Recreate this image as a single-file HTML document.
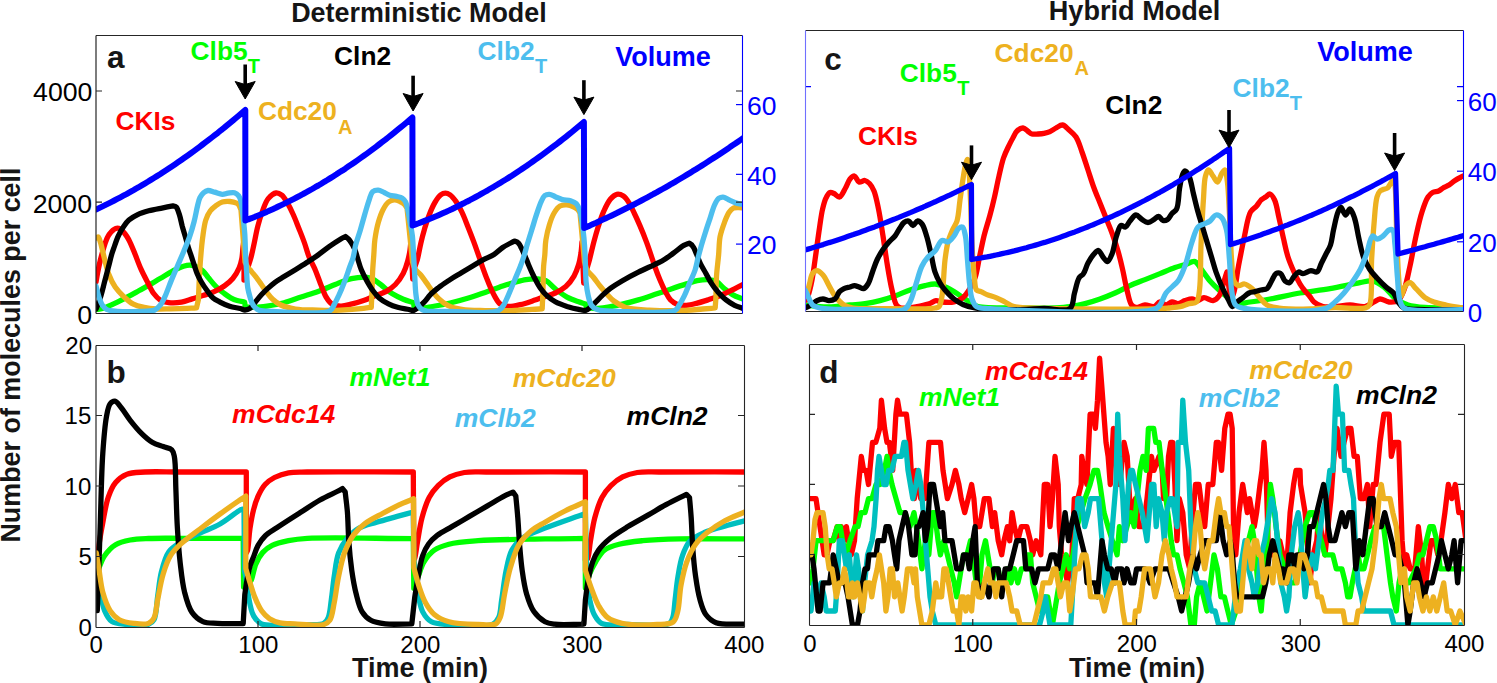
<!DOCTYPE html>
<html><head><meta charset="utf-8"><style>
html,body{margin:0;padding:0;background:#fff;}
svg{display:block;font-family:"Liberation Sans",sans-serif;}
</style></head><body>
<svg width="1497" height="683" viewBox="0 0 1497 683">
<rect width="1497" height="683" fill="#fff"/>
<defs><clipPath id="ca"><rect x="96" y="35" width="646" height="278"/></clipPath><clipPath id="cb"><rect x="96" y="345" width="648" height="282"/></clipPath><clipPath id="cc"><rect x="805" y="30" width="658" height="281"/></clipPath><clipPath id="cd"><rect x="809" y="344" width="655" height="281"/></clipPath></defs>
<path d="M96.0,309.5 C98.1,309.2 100.5,309.0 102.4,308.5 C104.0,308.1 105.0,307.6 106.7,306.9 C109.5,305.8 113.9,303.8 117.4,302.1 C121.0,300.4 124.6,298.6 128.1,296.7 C131.7,294.8 135.2,292.8 138.8,290.8 C142.3,288.8 145.9,286.9 149.4,284.9 C153.0,282.8 156.5,280.6 160.1,278.5 C163.7,276.4 167.4,274.0 170.8,272.1 C173.8,270.5 176.6,269.0 179.4,267.8 C181.9,266.7 184.6,265.7 186.9,265.3 C188.8,265.0 190.5,265.0 192.2,265.3 C194.0,265.6 195.8,266.4 197.5,267.3 C199.4,268.3 201.2,269.4 202.9,271.0 C204.8,272.8 206.4,275.3 208.2,277.5 C210.0,279.6 211.8,281.9 213.6,283.9 C215.3,285.8 217.1,287.6 218.9,289.2 C220.6,290.8 222.4,292.1 224.3,293.5 C226.3,295.0 228.5,296.6 230.7,297.8 C232.8,298.9 234.8,299.8 237.1,300.5 C239.5,301.2 242.1,301.6 244.6,302.1 L245.3,307.0 C248.8,307.1 252.2,307.4 255.7,307.3 C259.4,307.2 262.9,306.7 267.0,306.1 C272.1,305.3 278.5,304.2 284.1,302.7 C289.8,301.2 295.4,298.9 301.1,297.0 C306.8,295.1 312.5,293.5 318.1,291.4 C323.8,289.3 330.1,286.5 335.2,284.5 C339.4,282.8 342.7,281.1 346.5,280.0 C350.2,278.9 354.4,278.2 357.9,277.7 C360.8,277.3 363.3,277.0 365.8,277.2 C368.2,277.4 370.3,277.9 372.6,278.9 C375.3,280.1 377.7,282.4 380.6,284.5 C384.1,287.1 388.1,291.1 392.0,293.6 C395.7,295.9 399.6,297.7 403.3,299.3 C406.7,300.7 410.1,301.6 413.5,302.7 L414.1,306.7 C416.7,307.2 419.2,308.2 422.0,308.2 C425.2,308.2 428.6,307.2 432.5,306.5 C437.6,305.6 444.3,304.4 450.1,303.0 C456.0,301.6 461.8,300.1 467.6,298.3 C473.5,296.5 479.3,294.4 485.1,292.4 C491.0,290.3 497.4,287.8 502.7,286.0 C507.0,284.6 510.5,283.6 514.4,282.5 C518.3,281.4 522.2,280.2 526.1,279.6 C529.9,279.0 534.2,278.7 537.7,279.0 C540.7,279.2 543.2,279.4 545.9,280.7 C549.1,282.3 551.9,286.3 555.3,288.9 C558.9,291.7 563.0,294.9 567.0,297.1 C570.8,299.2 575.3,300.6 578.7,301.8 C581.3,302.8 583.4,303.3 585.7,304.1 L586.3,307.6 C589.4,307.9 592.5,308.5 595.7,308.5 C599.2,308.5 602.5,308.0 606.4,307.4 C611.2,306.7 617.1,305.4 622.4,304.2 C627.8,302.9 633.1,301.5 638.4,299.9 C643.8,298.3 649.1,296.4 654.5,294.6 C659.8,292.8 665.2,291.0 670.5,289.2 C675.8,287.4 681.7,285.4 686.5,283.9 C690.4,282.7 693.6,281.4 697.2,280.7 C700.7,280.0 704.5,279.4 707.9,279.6 C710.9,279.8 713.9,280.3 716.5,281.7 C719.3,283.1 721.3,286.1 723.9,288.2 C726.6,290.4 729.3,292.8 732.5,294.6 C736.0,296.6 740.2,297.9 744.0,299.5" fill="none" stroke="#00ff00" stroke-width="5.3" stroke-linejoin="round" stroke-linecap="round" clip-path="url(#ca)"/>
<path d="M96.0,282.0 C96.7,278.0 97.4,273.8 98.2,270.0 C98.9,266.5 99.5,263.7 100.4,260.0 C101.6,255.3 103.2,248.9 104.8,244.3 C106.1,240.6 107.2,237.1 109.2,234.4 C111.0,231.9 113.7,229.1 115.8,228.4 C117.3,227.9 118.8,228.2 120.2,228.9 C121.8,229.7 123.2,231.6 124.6,233.3 C126.1,235.2 127.5,237.4 128.9,239.9 C130.6,243.1 132.1,246.8 133.8,251.0 C136.0,256.2 138.5,263.5 140.9,268.9 C143.0,273.6 145.1,277.5 147.3,281.7 C149.4,285.7 151.3,290.3 153.7,293.5 C155.7,296.1 157.6,298.4 160.1,299.9 C162.6,301.4 165.5,302.2 168.7,302.6 C172.5,303.1 177.5,302.8 181.5,302.1 C185.3,301.5 188.6,300.0 192.2,298.9 C195.8,297.8 199.3,296.8 202.9,295.6 C206.5,294.4 210.1,293.5 213.6,291.9 C217.2,290.3 221.1,288.3 224.3,286.0 C227.4,283.8 230.4,281.4 232.8,278.5 C235.4,275.4 237.7,271.4 239.2,267.8 C240.6,264.6 241.2,261.7 241.9,258.2 C242.6,254.3 242.7,249.1 243.2,245.4 C243.6,242.5 243.9,240.3 244.3,237.7 L244.0,280.0 C245.0,276.7 245.9,273.5 247.0,270.0 C248.2,265.9 249.9,261.5 251.1,257.0 C252.4,252.2 253.4,246.9 254.5,241.8 C255.6,236.6 256.5,231.1 257.9,225.9 C259.2,220.8 260.7,215.8 262.5,211.1 C264.2,206.7 265.6,201.7 268.2,198.6 C270.4,196.0 273.6,193.3 276.1,193.0 C278.1,192.8 280.1,193.9 281.8,195.2 C284.0,196.9 285.7,200.2 287.5,203.2 C289.5,206.6 291.4,210.5 293.2,214.5 C295.2,218.8 296.9,223.5 298.8,228.2 C300.7,233.0 302.8,238.1 304.5,243.0 C306.2,247.7 307.3,252.6 309.1,257.0 C310.8,261.1 312.9,264.5 314.7,268.6 C316.7,273.2 318.5,278.6 320.4,283.4 C322.3,288.0 323.9,293.4 326.1,297.0 C327.8,299.8 329.4,302.4 331.8,303.9 C334.3,305.4 337.6,306.0 340.8,306.1 C344.4,306.2 348.4,304.8 352.2,303.9 C356.0,303.0 359.8,301.8 363.6,300.5 C367.4,299.2 371.1,297.4 374.9,295.9 C378.7,294.4 382.8,293.3 386.3,291.4 C389.6,289.5 392.7,287.3 395.4,284.5 C398.4,281.4 401.2,277.2 403.3,273.2 C405.3,269.3 406.7,264.7 407.8,260.7 C408.8,257.0 409.5,253.5 410.0,250.0 C410.5,246.6 410.7,243.3 411.0,240.0 L412.7,279.0 C413.3,275.3 413.7,271.4 414.5,268.0 C415.2,265.0 416.4,263.0 417.3,259.8 C418.5,255.3 419.6,248.6 420.8,243.4 C421.9,238.5 423.0,234.0 424.4,229.4 C425.8,224.7 427.2,219.9 429.0,215.4 C430.7,211.0 432.7,206.1 434.9,202.5 C436.7,199.5 438.6,196.4 440.7,194.9 C442.2,193.8 443.8,193.2 445.4,193.2 C447.0,193.2 448.6,193.9 450.1,194.9 C452.1,196.3 454.1,198.9 455.9,201.4 C458.0,204.4 459.9,208.1 461.8,211.9 C463.9,216.2 465.7,221.1 467.6,225.9 C469.6,230.9 471.6,235.9 473.5,241.1 C475.5,246.4 477.6,252.6 479.3,257.4 C480.6,261.3 481.4,264.1 482.8,267.9 C484.4,272.5 486.6,278.3 488.6,283.1 C490.5,287.6 492.4,292.2 494.5,295.9 C496.3,299.0 497.8,302.3 500.3,304.1 C502.6,305.7 505.5,306.3 508.5,306.5 C512.0,306.7 516.3,305.6 520.2,304.7 C524.1,303.8 528.0,302.5 531.9,301.2 C535.8,299.9 539.7,298.5 543.6,297.1 C547.5,295.7 551.6,294.8 555.3,293.0 C559.0,291.3 562.7,289.3 565.8,286.6 C569.0,283.8 571.8,279.9 574.0,276.1 C576.1,272.4 577.5,268.3 578.7,264.4 C579.8,260.6 580.4,256.8 581.0,253.0 C581.5,249.3 581.7,245.7 582.0,242.0 L583.7,283.0 C584.5,279.3 585.1,275.7 586.0,272.0 C587.0,268.1 588.2,264.4 589.4,260.0 C590.8,254.6 592.3,247.8 593.8,242.1 C595.2,236.8 596.6,231.8 598.2,226.7 C599.9,221.6 601.6,216.1 603.7,211.4 C605.7,207.0 607.8,202.3 610.3,199.3 C612.3,197.0 614.5,194.8 616.8,194.3 C618.9,193.9 621.5,194.8 623.4,196.0 C625.6,197.4 627.2,200.0 628.9,202.6 C630.9,205.7 632.6,209.8 634.4,213.5 C636.3,217.4 638.0,221.2 639.9,225.6 C642.1,230.7 644.6,236.9 646.5,242.1 C648.2,246.6 649.6,250.8 651.0,255.0 C652.4,259.1 653.6,263.0 655.0,267.0 C656.5,271.2 658.1,275.5 659.8,279.6 C661.5,283.6 663.3,287.8 665.2,291.4 C666.9,294.5 668.4,297.7 670.5,299.9 C672.4,301.8 674.4,303.3 676.9,304.2 C679.7,305.2 683.2,305.4 686.5,305.3 C690.0,305.1 693.7,304.0 697.2,303.1 C700.8,302.2 704.3,301.0 707.9,299.9 C711.5,298.7 715.1,297.6 718.6,296.2 C722.2,294.8 725.5,293.2 729.3,291.4 C733.8,289.2 739.1,286.5 744.0,284.0" fill="none" stroke="#ff0000" stroke-width="5.3" stroke-linejoin="round" stroke-linecap="round" clip-path="url(#ca)"/>
<path d="M96.0,238.0 C96.7,237.7 97.6,236.8 98.2,237.0 C99.2,237.4 99.7,240.1 100.4,242.1 C101.3,244.6 101.9,247.9 102.6,251.0 C103.4,254.2 104.1,257.4 105.0,261.0 C106.1,265.1 107.1,270.0 108.8,274.3 C110.5,278.7 112.6,283.3 115.2,287.1 C117.7,290.7 120.7,293.8 123.8,296.7 C126.8,299.5 129.9,302.4 133.4,304.2 C136.7,305.9 140.4,306.6 144.1,307.4 C147.9,308.2 151.7,308.7 155.9,309.0 C160.6,309.3 165.7,308.9 170.8,308.8 C176.1,308.7 182.2,308.5 186.9,308.3 C190.5,308.1 193.3,308.0 196.5,307.8 L198.4,299.6 C198.7,293.2 198.9,287.1 199.2,280.5 C199.6,273.4 200.0,265.9 200.6,258.6 C201.2,251.3 201.8,243.4 202.8,236.6 C203.6,230.7 204.3,224.6 205.8,220.0 C207.0,216.4 208.4,213.4 210.2,211.0 C211.8,208.9 213.7,207.4 215.7,205.9 C217.7,204.4 219.9,202.7 222.3,202.0 C224.7,201.3 227.5,201.3 230.0,201.5 C232.3,201.7 235.0,202.4 236.6,203.1 C237.6,203.6 238.2,204.0 238.8,204.8 C239.7,206.0 240.3,208.3 241.0,210.0 L245.0,262.0 C245.9,263.7 246.7,265.6 247.6,267.0 C248.4,268.1 249.0,268.7 250.0,269.8 C251.5,271.6 253.8,274.2 255.7,276.6 C257.6,279.1 259.5,281.9 261.4,284.5 C263.3,287.2 265.1,290.0 267.0,292.5 C268.8,294.9 270.5,297.3 272.7,299.3 C275.0,301.4 277.5,303.5 280.7,305.0 C284.7,306.9 289.9,308.1 295.4,309.0 C302.1,310.1 310.5,309.9 318.1,310.1 C325.7,310.3 333.2,310.4 340.8,310.1 C348.4,309.8 358.0,309.0 363.6,308.4 C366.9,308.0 368.7,307.7 371.3,307.3 L372.1,289.1 C372.3,283.4 372.3,277.7 372.6,272.0 C372.9,266.3 373.4,260.5 373.8,255.0 C374.2,249.7 374.2,244.8 374.9,239.5 C375.7,233.9 376.8,227.7 378.3,222.5 C379.6,218.0 381.0,213.6 382.9,210.0 C384.5,206.9 386.3,203.7 388.5,202.0 C390.2,200.7 392.3,199.9 394.2,199.8 C396.1,199.7 398.2,200.7 399.9,201.5 C401.5,202.2 403.2,203.2 404.4,204.3 C405.5,205.4 406.1,206.8 407.0,208.0 L412.5,262.0 C413.3,264.3 413.7,266.9 415.0,269.0 C416.4,271.2 418.9,272.7 420.8,274.9 C422.9,277.3 424.7,280.4 426.7,283.1 C428.6,285.8 430.5,288.7 432.5,291.3 C434.4,293.8 436.1,296.1 438.4,298.3 C441.0,300.8 444.1,303.5 447.7,305.3 C451.8,307.3 456.5,308.5 461.8,309.4 C468.5,310.5 477.3,310.4 485.1,310.6 C492.9,310.8 500.7,310.8 508.5,310.6 C516.3,310.4 525.7,309.7 531.9,309.4 C536.0,309.2 538.8,309.0 542.2,308.8 L543.0,290.1 C543.2,282.3 543.2,273.2 543.6,266.7 C543.9,262.1 544.4,259.2 544.8,255.0 C545.2,250.3 545.1,244.9 545.9,239.9 C546.7,234.8 547.9,229.4 549.4,224.7 C550.7,220.5 552.1,216.3 554.1,213.0 C555.8,210.2 557.7,207.3 560.0,206.0 C562.1,204.8 564.7,204.7 567.0,204.9 C569.4,205.1 572.1,206.3 574.0,207.2 C575.4,207.9 576.5,208.5 577.5,209.5 C578.5,210.5 579.2,211.8 580.0,213.0 L584.5,262.0 C585.4,264.7 585.7,267.5 587.1,270.0 C588.6,272.7 591.5,274.9 593.6,277.5 C595.8,280.2 597.8,283.3 600.0,286.0 C602.1,288.6 604.1,291.0 606.4,293.5 C608.8,296.0 610.9,298.8 613.9,301.0 C617.2,303.5 620.9,305.9 625.6,307.4 C631.9,309.4 640.6,309.5 649.1,310.1 C659.0,310.7 671.6,310.9 681.2,310.6 C689.1,310.4 696.4,309.5 702.6,309.0 C707.4,308.6 711.0,308.3 715.2,307.9 L715.9,297.8 C716.1,290.7 716.1,283.5 716.5,276.4 C716.9,269.3 718.0,261.9 718.6,255.0 C719.2,248.6 719.0,242.3 720.1,236.6 C721.1,231.5 722.9,226.6 724.5,222.3 C725.9,218.7 727.2,215.0 728.9,212.5 C730.2,210.6 731.6,208.9 733.3,208.1 C734.9,207.3 736.9,207.5 738.7,207.5 C740.5,207.5 742.2,208.0 744.0,208.3" fill="none" stroke="#edb120" stroke-width="5.3" stroke-linejoin="round" stroke-linecap="round" clip-path="url(#ca)"/>
<path d="M96.0,309.0 C97.4,305.3 99.0,301.9 100.3,297.8 C101.9,293.0 103.2,287.1 104.6,281.7 C106.0,276.4 107.6,270.5 108.8,265.7 C109.8,261.8 110.6,258.1 111.5,255.0 C112.2,252.6 112.8,251.1 113.6,248.7 C114.8,245.3 116.3,240.4 118.0,236.6 C119.6,233.1 121.5,229.6 123.5,226.7 C125.2,224.2 126.7,222.0 128.9,220.1 C131.3,218.0 134.5,216.1 137.7,214.6 C141.1,213.0 144.8,211.9 148.7,210.8 C152.9,209.7 157.7,208.9 161.9,208.1 C165.7,207.3 169.2,206.6 172.9,205.9 L175.5,206.5 C175.8,206.8 176.2,206.8 176.5,207.3 C177.4,208.5 178.5,211.8 179.4,214.6 C180.5,218.0 181.3,222.6 182.3,226.4 C183.3,229.9 184.3,233.2 185.3,236.6 C186.3,240.0 187.2,243.6 188.2,246.9 C189.1,249.9 190.1,252.7 191.1,255.6 C192.1,258.5 193.0,261.5 194.0,264.4 C195.0,267.3 195.8,270.3 197.0,273.2 C198.2,276.2 199.7,279.1 201.4,282.0 C203.1,285.0 205.2,288.0 207.2,290.8 C209.1,293.4 210.9,296.2 213.1,298.1 C215.2,299.9 217.5,300.8 220.0,302.1 C222.9,303.6 226.3,305.2 229.6,306.3 C233.0,307.4 237.5,307.8 240.3,308.5 C242.2,309.0 243.4,310.0 245.0,310.0 C246.6,310.0 248.4,309.5 250.0,308.4 C252.1,307.0 253.8,303.9 255.7,301.6 C257.6,299.3 259.5,296.9 261.4,294.8 C263.2,292.8 264.9,291.0 267.0,289.1 C269.4,286.9 272.2,284.4 275.0,282.3 C277.9,280.2 280.9,278.6 284.1,276.6 C287.7,274.4 291.6,272.1 295.4,269.8 C299.2,267.4 303.0,265.0 306.8,262.5 C310.6,260.0 314.4,257.6 318.1,255.0 C321.9,252.3 325.7,249.1 329.5,246.4 C333.2,243.8 337.8,240.8 340.8,239.0 C342.7,237.9 343.9,237.3 345.5,236.5 L348.0,238.5 C348.6,239.2 349.2,239.7 349.9,240.7 C351.2,242.5 353.2,245.8 354.5,248.6 C355.8,251.5 356.4,254.7 357.5,258.0 C358.7,261.7 359.7,266.0 361.3,269.8 C362.9,273.7 365.0,277.6 367.0,281.1 C368.8,284.3 370.5,287.3 372.6,290.2 C374.7,293.0 376.9,295.9 379.5,298.2 C382.2,300.5 385.4,302.4 388.5,303.9 C391.5,305.4 394.4,306.4 397.6,307.3 C401.1,308.3 406.1,308.9 409.0,309.5 C410.8,309.9 412.1,310.8 413.5,310.5 C415.1,310.2 416.4,308.7 418.0,307.5 C420.0,306.0 422.4,303.9 424.4,301.8 C426.5,299.7 428.0,297.1 430.2,294.8 C432.6,292.3 435.4,290.1 438.4,287.7 C441.9,285.0 446.2,282.2 450.1,279.6 C454.0,277.1 457.9,274.9 461.8,272.5 C465.7,270.2 469.8,267.7 473.5,265.5 C476.8,263.5 479.7,261.6 483.0,259.8 C486.5,257.9 490.7,256.6 494.0,254.5 C497.2,252.5 499.5,249.7 502.7,247.5 C506.2,245.1 510.5,243.2 514.4,241.1 L517.2,242.0 C518.0,242.8 518.8,243.5 519.5,244.5 C520.2,245.5 520.7,246.7 521.4,248.1 C522.4,250.2 523.8,253.3 525.0,256.0 C526.2,258.7 527.1,261.3 528.4,264.4 C530.0,268.2 532.2,273.2 534.2,277.2 C536.1,280.9 537.9,284.5 540.1,287.7 C542.2,290.7 544.5,293.5 547.1,295.9 C549.6,298.2 552.2,300.1 555.3,301.8 C558.8,303.7 563.1,305.2 567.0,306.5 C570.9,307.7 575.3,308.8 578.7,309.4 C581.3,309.9 583.7,310.7 585.7,310.3 C587.5,309.9 588.8,308.6 590.3,307.4 C592.1,306.0 593.8,304.0 595.7,302.1 C597.8,300.1 599.8,297.8 602.1,295.6 C604.7,293.2 607.5,290.6 610.7,288.2 C614.2,285.6 618.1,283.2 622.4,280.7 C627.3,277.8 633.0,274.8 638.4,272.1 C643.7,269.4 650.2,266.7 654.5,264.6 C657.5,263.2 659.3,262.5 662.0,261.0 C665.4,259.1 669.3,256.1 672.9,253.5 C676.6,250.9 680.7,247.1 683.8,245.4 C685.9,244.2 687.5,243.9 689.3,243.2 L691.8,245.0 C692.4,245.9 693.0,246.5 693.7,247.6 C694.8,249.4 695.9,252.7 697.0,255.3 C698.1,258.0 699.0,260.8 700.4,263.6 C701.9,266.7 704.0,270.0 705.8,273.2 C707.6,276.4 709.1,279.8 711.1,282.8 C713.0,285.8 715.1,288.6 717.5,291.4 C720.1,294.3 723.1,297.5 726.1,299.9 C728.8,302.1 731.6,303.8 734.6,305.3 C737.6,306.8 740.9,307.6 744.0,308.8" fill="none" stroke="#000000" stroke-width="5.3" stroke-linejoin="round" stroke-linecap="round" clip-path="url(#ca)"/>
<path d="M96.0,286.0 C97.1,289.9 98.0,294.3 99.2,297.8 C100.2,300.6 101.0,303.3 102.4,305.3 C103.6,307.0 104.7,308.5 106.7,309.5 C109.3,310.8 113.2,310.9 117.4,311.3 C123.3,311.8 132.2,311.8 138.8,311.5 C144.5,311.3 151.1,311.6 154.8,310.0 C157.3,308.9 158.6,307.2 160.1,305.3 C161.8,303.2 163.1,300.6 164.4,297.8 C166.0,294.6 167.3,290.7 168.7,287.1 C170.1,283.5 171.5,279.9 173.0,276.4 C174.5,272.9 175.9,269.8 177.5,266.0 C179.4,261.5 181.8,256.1 183.8,251.2 C185.8,246.4 187.8,241.8 189.5,237.0 C191.2,232.1 192.7,227.1 194.0,222.0 C195.4,216.8 196.4,210.5 197.5,206.0 C198.3,202.7 198.8,199.8 200.0,197.5 C201.0,195.6 202.2,193.9 203.6,192.7 C204.9,191.6 206.3,190.7 208.0,190.5 C209.9,190.3 212.3,191.5 214.6,192.1 C217.1,192.8 219.9,194.2 222.3,194.3 C224.3,194.4 225.9,193.5 227.8,193.2 C229.9,192.9 232.5,192.1 234.4,192.7 C236.1,193.2 237.7,194.6 238.8,196.0 C239.9,197.5 240.4,199.1 241.0,201.5 C242.0,205.5 242.6,212.5 243.2,218.0 C243.8,223.5 244.4,228.6 244.8,234.4 C245.2,240.9 245.3,248.7 245.6,255.0 C245.9,260.4 246.2,264.8 246.5,270.0 C246.9,275.7 247.0,283.1 247.8,288.0 C248.4,291.5 249.2,294.3 250.0,297.0 C250.6,299.2 251.1,301.2 252.0,303.0 C252.8,304.7 253.8,306.3 255.0,307.5 C256.2,308.7 257.2,309.6 259.1,310.3 C262.2,311.4 266.6,311.3 272.7,311.5 C285.1,312.0 321.4,315.1 329.5,311.0 C332.4,309.5 332.6,307.3 334.0,305.0 C335.6,302.3 337.0,299.3 338.6,295.9 C340.5,291.9 342.5,287.0 344.3,282.3 C346.3,277.2 348.3,270.9 349.9,266.4 C351.1,263.2 352.1,261.1 353.0,258.0 C354.1,254.2 354.5,249.6 355.6,245.2 C356.8,240.4 358.7,235.5 360.2,230.5 C361.7,225.3 363.2,219.7 364.7,214.5 C366.2,209.5 367.7,203.9 369.2,199.8 C370.3,196.7 370.8,193.4 372.6,191.8 C374.1,190.5 376.4,190.0 378.3,190.1 C380.2,190.2 382.1,191.6 384.0,192.4 C385.9,193.3 387.7,194.5 389.7,195.2 C391.8,195.9 394.3,195.9 396.5,196.4 C398.5,196.9 400.7,197.1 402.2,198.1 C403.6,199.0 404.7,200.3 405.6,202.0 C406.7,204.1 407.1,207.0 407.8,210.0 C408.6,213.7 409.3,218.2 410.1,222.5 C410.9,226.9 411.8,231.3 412.4,236.1 C413.0,241.5 413.1,247.2 413.5,253.2 C413.9,260.0 414.3,267.9 414.7,275.0 C415.1,281.8 415.2,289.5 416.0,295.0 C416.5,298.9 416.8,302.4 418.1,305.0 C419.1,307.0 420.5,308.5 422.0,309.5 C423.4,310.4 424.5,310.6 426.7,311.0 C431.5,311.8 441.0,311.4 450.1,311.5 C463.0,311.6 488.9,314.1 496.8,311.3 C500.0,310.2 500.9,308.7 502.7,306.5 C505.0,303.6 506.6,298.9 508.5,294.8 C510.5,290.3 512.4,285.4 514.4,280.7 C516.3,276.0 518.5,271.1 520.2,266.7 C521.7,262.9 522.8,259.6 524.0,256.0 C525.2,252.3 526.0,248.7 527.2,244.6 C528.6,239.9 530.3,234.5 531.9,229.4 C533.5,224.3 535.0,219.0 536.6,214.2 C538.1,209.7 539.7,204.8 541.3,201.4 C542.4,199.0 543.3,196.7 544.8,195.5 C546.1,194.5 547.8,194.2 549.4,194.3 C551.3,194.4 553.3,195.9 555.3,196.7 C557.5,197.6 559.8,198.9 562.3,199.6 C564.9,200.3 568.1,200.0 570.5,200.8 C572.7,201.5 574.8,202.2 576.3,203.7 C578.0,205.4 578.9,207.9 579.8,210.7 C581.0,214.3 581.5,219.2 582.2,223.6 C582.9,228.2 583.4,232.7 583.9,237.6 C584.4,243.1 584.8,248.7 585.1,255.1 C585.5,263.0 585.4,274.3 586.1,281.7 C586.6,287.1 587.2,291.4 588.2,295.6 C589.1,299.2 589.6,302.9 591.4,305.3 C593.0,307.4 594.9,308.8 597.8,309.8 C602.4,311.4 608.9,311.0 617.1,311.3 C631.2,311.7 666.8,314.3 674.8,310.5 C677.5,309.2 677.7,307.4 679.1,305.3 C680.9,302.6 682.7,299.1 684.4,295.6 C686.3,291.7 687.9,287.1 689.7,282.8 C691.5,278.5 693.7,274.3 695.1,270.0 C696.4,266.0 697.0,262.0 698.0,258.0 C699.1,253.8 700.2,249.7 701.4,245.4 C702.7,240.8 704.3,235.8 705.8,231.1 C707.2,226.6 708.7,222.3 710.2,217.9 C711.7,213.5 712.9,208.3 714.6,204.8 C715.9,202.1 717.3,199.4 719.0,198.2 C720.3,197.3 721.8,196.9 723.4,197.1 C725.4,197.3 727.8,199.4 730.0,200.4 C732.2,201.4 734.2,202.4 736.5,203.1 C738.9,203.8 741.5,204.0 744.0,204.5" fill="none" stroke="#4dbeee" stroke-width="5.3" stroke-linejoin="round" stroke-linecap="round" clip-path="url(#ca)"/>
<path d="M96.0,209.5 L99.0,208.1 L102.1,206.6 L105.1,205.1 L108.2,203.6 L111.2,202.1 L114.3,200.5 L117.3,198.9 L120.4,197.3 L123.4,195.7 L126.5,194.1 L129.5,192.4 L132.6,190.7 L135.6,188.9 L138.7,187.2 L141.7,185.4 L144.8,183.6 L147.8,181.8 L150.8,179.9 L153.9,178.0 L156.9,176.1 L160.0,174.2 L163.0,172.2 L166.1,170.2 L169.1,168.2 L172.2,166.2 L175.2,164.2 L178.3,162.1 L181.3,160.0 L184.4,157.8 L187.4,155.7 L190.5,153.5 L193.5,151.3 L196.5,149.1 L199.6,146.8 L202.6,144.5 L205.7,142.2 L208.7,139.9 L211.8,137.5 L214.8,135.2 L217.9,132.8 L220.9,130.3 L224.0,127.9 L227.0,125.4 L230.1,122.9 L233.1,120.4 L236.2,117.8 L239.2,115.2 L242.3,112.6 L245.3,110.0 L245.4,220.5 L248.4,219.3 L251.5,218.2 L254.5,217.0 L257.5,215.7 L260.6,214.5 L263.6,213.2 L266.7,211.9 L269.7,210.5 L272.7,209.2 L275.8,207.8 L278.8,206.3 L281.8,204.9 L284.9,203.4 L287.9,201.9 L290.9,200.4 L294.0,198.8 L297.0,197.3 L300.1,195.7 L303.1,194.0 L306.1,192.4 L309.2,190.7 L312.2,189.0 L315.2,187.2 L318.3,185.5 L321.3,183.7 L324.3,181.8 L327.4,180.0 L330.4,178.1 L333.5,176.2 L336.5,174.3 L339.5,172.3 L342.6,170.4 L345.6,168.4 L348.6,166.3 L351.7,164.3 L354.7,162.2 L357.7,160.1 L360.8,157.9 L363.8,155.8 L366.9,153.6 L369.9,151.4 L372.9,149.1 L376.0,146.8 L379.0,144.5 L382.0,142.2 L385.1,139.9 L388.1,137.5 L391.1,135.1 L394.2,132.6 L397.2,130.2 L400.3,127.7 L403.3,125.2 L406.3,122.7 L409.4,120.1 L412.4,117.5 L412.6,225.5 L415.6,224.4 L418.6,223.3 L421.6,222.1 L424.6,220.9 L427.6,219.7 L430.6,218.5 L433.6,217.2 L436.6,216.0 L439.6,214.7 L442.7,213.3 L445.7,212.0 L448.7,210.6 L451.7,209.2 L454.7,207.7 L457.7,206.3 L460.7,204.8 L463.7,203.3 L466.7,201.7 L469.7,200.2 L472.7,198.6 L475.7,197.0 L478.7,195.4 L481.7,193.7 L484.7,192.0 L487.7,190.3 L490.7,188.5 L493.7,186.8 L496.7,185.0 L499.8,183.2 L502.8,181.3 L505.8,179.5 L508.8,177.6 L511.8,175.7 L514.8,173.7 L517.8,171.7 L520.8,169.8 L523.8,167.7 L526.8,165.7 L529.8,163.6 L532.8,161.5 L535.8,159.4 L538.8,157.3 L541.8,155.1 L544.8,152.9 L547.8,150.7 L550.8,148.4 L553.8,146.1 L556.9,143.8 L559.9,141.5 L562.9,139.2 L565.9,136.8 L568.9,134.4 L571.9,132.0 L574.9,129.5 L577.9,127.0 L580.9,124.5 L583.9,122.0 L584.2,228.0 L587.2,226.7 L590.2,225.4 L593.2,224.0 L596.3,222.7 L599.3,221.3 L602.3,219.9 L605.3,218.5 L608.3,217.1 L611.3,215.7 L614.4,214.2 L617.4,212.8 L620.4,211.3 L623.4,209.8 L626.4,208.3 L629.4,206.8 L632.4,205.2 L635.5,203.7 L638.5,202.1 L641.5,200.5 L644.5,198.9 L647.5,197.3 L650.5,195.7 L653.5,194.0 L656.6,192.4 L659.6,190.7 L662.6,189.0 L665.6,187.3 L668.6,185.6 L671.6,183.8 L674.7,182.1 L677.7,180.3 L680.7,178.5 L683.7,176.7 L686.7,174.9 L689.7,173.1 L692.7,171.2 L695.8,169.4 L698.8,167.5 L701.8,165.6 L704.8,163.7 L707.8,161.8 L710.8,159.8 L713.8,157.9 L716.9,155.9 L719.9,153.9 L722.9,151.9 L725.9,149.9 L728.9,147.9 L731.9,145.8 L735.0,143.8 L738.0,141.7 L741.0,139.6 L744.0,137.5" fill="none" stroke="#0000ff" stroke-width="6" stroke-linejoin="round" stroke-linecap="round" clip-path="url(#ca)"/>
<path d="M97.0,566.0 C97.7,559.0 98.1,552.1 99.0,545.0 C100.0,537.7 101.3,530.4 102.8,522.7 C104.4,514.4 105.8,504.3 108.3,497.1 C110.3,491.4 112.3,486.4 115.6,482.5 C118.6,479.0 122.2,476.2 126.6,474.4 C131.7,472.3 137.8,472.5 144.9,472.0 C154.7,471.4 166.5,472.0 180.0,472.0 C198.6,472.0 224.2,472.0 246.3,472.0 L246.3,553.0 C246.7,552.0 247.2,551.5 247.6,550.0 C248.6,546.2 248.9,535.8 249.9,529.0 C250.9,522.6 251.9,516.0 253.4,510.3 C254.7,505.2 256.1,500.6 258.1,496.2 C260.0,492.0 262.2,487.7 265.1,484.5 C267.8,481.5 270.9,479.4 274.5,477.5 C278.6,475.4 283.4,473.7 288.5,472.8 C294.2,471.7 298.5,472.2 307.3,472.0 C328.2,471.6 378.0,472.0 413.3,472.0 L413.8,560.0 C414.1,559.6 414.3,559.5 414.6,558.8 C415.5,556.4 416.5,547.6 417.6,541.3 C418.9,534.0 420.0,525.3 422.0,517.8 C423.9,510.7 426.2,503.0 429.3,497.3 C431.8,492.6 434.7,489.0 438.1,485.6 C441.5,482.2 445.5,479.1 449.8,476.9 C454.2,474.7 458.9,473.4 464.4,472.5 C471.2,471.4 477.4,472.1 487.9,472.0 C509.3,471.8 552.9,472.0 585.4,472.0 L585.4,560.0 C586.1,559.6 586.9,559.7 587.5,558.8 C589.1,556.4 589.3,547.6 590.4,541.3 C591.7,534.0 592.8,525.3 594.8,517.8 C596.7,510.7 599.0,503.0 602.1,497.3 C604.6,492.6 607.5,489.0 610.9,485.6 C614.3,482.2 618.3,479.1 622.6,476.9 C627.0,474.7 631.8,473.4 637.3,472.5 C644.1,471.4 650.5,472.1 660.7,472.0 C680.0,471.8 716.7,472.0 744.7,472.0" fill="none" stroke="#ff0000" stroke-width="5.3" stroke-linejoin="round" stroke-linecap="round" clip-path="url(#cb)"/>
<path d="M98.0,570.3 C100.2,565.4 101.6,560.0 104.6,555.7 C107.5,551.5 111.3,547.3 115.6,544.7 C119.9,542.1 125.0,541.0 130.2,540.0 C135.9,538.9 141.6,538.8 148.5,538.5 C157.6,538.1 167.7,538.3 180.0,538.3 C197.4,538.2 222.1,538.3 243.2,538.3 L243.6,587.0 C245.1,586.0 246.7,585.1 248.0,584.0 C249.2,582.9 250.1,582.2 251.1,580.5 C252.9,577.2 253.7,569.0 255.8,564.1 C257.7,559.7 259.9,555.6 262.8,552.4 C265.5,549.4 268.4,547.3 272.2,545.4 C276.7,543.2 282.8,541.9 288.5,540.7 C294.5,539.5 298.5,538.9 307.3,538.4 C328.2,537.1 378.0,538.5 413.3,538.6 L413.8,588.1 C415.3,584.2 416.6,580.5 418.2,576.4 C420.0,571.8 421.3,566.2 424.0,561.8 C426.7,557.4 430.2,553.0 434.3,550.1 C438.5,547.2 443.1,545.7 448.9,544.2 C456.9,542.2 466.4,541.6 478.2,540.7 C495.9,539.4 525.5,539.3 545.0,538.9 C560.1,538.6 571.8,538.6 585.2,538.5 L585.4,588.1 C586.9,583.2 588.0,578.0 589.8,573.5 C591.5,569.3 593.4,565.6 595.7,561.8 C598.2,557.8 600.6,553.0 604.4,550.1 C608.3,547.1 613.5,545.7 619.1,544.2 C625.9,542.4 633.8,541.6 642.5,540.7 C653.5,539.6 665.8,539.2 680.0,538.9 C698.6,538.5 723.1,538.9 744.7,538.9" fill="none" stroke="#00ff00" stroke-width="5.3" stroke-linejoin="round" stroke-linecap="round" clip-path="url(#cb)"/>
<path d="M96.5,555.7 C97.7,566.7 98.7,578.8 100.2,588.6 C101.5,596.7 102.1,604.7 104.6,610.6 C106.5,615.1 108.5,619.3 112.0,621.6 C115.7,624.0 121.2,623.8 126.6,624.3 C133.1,624.9 143.8,626.0 148.5,624.3 C151.2,623.3 152.6,622.2 154.0,619.7 C156.6,615.1 156.5,603.9 157.7,596.0 C158.9,588.0 159.5,579.5 161.4,572.0 C163.2,564.9 165.1,557.0 168.7,552.0 C171.7,547.8 175.5,545.8 180.0,542.9 C185.6,539.3 193.3,536.2 200.0,533.0 C206.6,529.9 213.3,527.7 220.0,524.0 C227.3,519.9 238.2,510.2 241.8,509.3 C242.8,509.0 243.3,509.4 244.0,509.5 L244.5,571.2 C244.8,572.1 245.0,572.5 245.3,573.9 C246.3,578.4 247.9,595.2 249.7,602.9 C250.9,608.2 251.5,612.4 253.7,616.0 C255.7,619.3 257.7,622.3 261.6,624.0 C267.8,626.7 281.4,624.7 290.0,624.8 C297.1,624.9 303.3,625.0 309.3,624.7 C314.5,624.4 320.7,625.1 323.9,623.3 C326.2,622.0 327.2,620.1 328.3,617.4 C330.1,613.2 330.4,606.1 331.3,599.8 C332.4,592.6 333.0,584.2 334.2,576.4 C335.4,568.6 336.1,559.7 338.6,553.0 C340.8,547.3 343.9,542.5 347.4,538.3 C350.8,534.3 354.5,530.7 359.1,528.1 C364.1,525.2 370.6,524.1 376.7,522.2 C383.2,520.2 390.8,518.2 397.2,516.4 C402.9,514.8 407.9,513.5 413.3,512.0 L413.8,560.0 C414.3,562.5 414.8,564.3 415.3,567.6 C416.2,573.7 416.8,586.1 418.2,594.0 C419.4,600.5 420.1,606.8 422.6,611.6 C424.8,615.8 427.5,619.6 431.4,621.8 C435.9,624.3 441.7,624.0 448.9,624.5 C460.2,625.3 485.4,627.6 492.9,624.1 C496.3,622.5 497.3,620.4 498.7,617.4 C500.7,613.1 500.6,606.4 501.7,599.8 C503.1,591.3 504.2,579.4 506.1,570.6 C507.7,563.1 508.9,555.7 511.9,550.1 C514.5,545.3 517.6,541.7 522.2,538.3 C528.0,534.0 536.2,531.6 545.0,528.1 C556.5,523.5 571.9,518.4 585.4,513.5 L586.5,565.0 C586.6,567.8 586.6,569.9 586.9,573.5 C587.4,579.9 588.3,592.4 589.8,599.8 C591.0,605.5 592.0,610.4 594.2,614.5 C596.1,618.0 597.7,621.4 601.5,623.3 C607.2,626.1 618.1,624.4 627.9,624.5 C640.2,624.6 663.3,627.2 669.3,623.6 C671.8,622.1 671.9,620.1 672.8,617.4 C674.2,613.1 674.3,606.1 675.1,599.8 C676.0,592.6 676.7,583.9 678.0,576.4 C679.2,569.3 680.2,562.0 682.4,555.9 C684.3,550.5 686.1,545.2 689.7,541.3 C693.4,537.3 698.8,535.0 704.4,532.5 C711.1,529.5 720.6,527.3 727.8,525.2 C733.9,523.5 739.1,522.3 744.7,520.8" fill="none" stroke="#00bfbf" stroke-width="5.3" stroke-linejoin="round" stroke-linecap="round" clip-path="url(#cb)"/>
<path d="M97.3,610.6 C98.3,582.5 99.3,553.5 100.2,526.4 C101.1,501.1 101.4,473.4 102.8,453.2 C103.8,438.9 104.8,425.6 106.5,416.6 C107.5,411.2 108.1,406.3 110.1,403.8 C111.4,402.2 113.3,401.0 114.9,401.2 C116.9,401.5 118.9,404.9 121.1,407.5 C124.0,410.9 126.9,416.1 130.2,420.3 C133.6,424.6 137.4,429.3 141.2,433.1 C144.7,436.6 148.3,439.9 152.2,442.2 C155.7,444.3 159.8,445.3 163.2,446.6 C166.2,447.8 169.9,447.9 171.8,449.8 C173.5,451.5 173.7,453.6 174.4,456.9 C175.8,463.8 175.4,478.5 175.9,489.8 C176.4,501.7 176.6,514.2 177.3,526.4 C178.0,538.6 178.9,551.5 180.2,563.0 C181.4,573.3 182.4,583.6 184.6,592.3 C186.5,599.7 188.4,607.3 192.0,612.4 C194.9,616.5 198.7,619.8 202.9,621.6 C207.2,623.5 212.0,623.0 217.6,623.4 C224.9,623.9 234.7,623.5 243.2,623.6 L244.8,594.6 C245.5,589.7 246.1,584.8 247.0,580.0 C247.9,575.3 248.8,570.1 250.0,566.0 C251.0,562.7 252.2,560.3 253.4,557.1 C254.8,553.5 256.1,549.0 258.1,545.4 C260.0,542.0 262.2,538.8 265.1,536.0 C268.3,532.9 272.2,530.9 276.8,527.8 C283.2,523.5 292.8,517.4 300.3,512.6 C307.2,508.2 313.6,503.6 320.0,500.0 C325.8,496.7 333.0,493.6 337.1,491.5 C339.4,490.3 340.7,489.6 342.5,488.6 L345.2,492.0 C345.9,498.7 346.8,504.7 347.4,512.0 C348.1,520.8 348.1,531.5 348.8,541.3 C349.5,551.1 350.5,561.4 351.8,570.6 C353.0,578.9 354.3,586.8 356.2,594.0 C357.8,600.3 359.2,607.0 362.0,611.6 C364.3,615.4 367.2,618.3 370.8,620.3 C374.8,622.5 379.8,623.2 385.4,623.9 C392.9,624.8 403.0,623.9 411.8,623.9 L414.8,596.9 C415.9,590.1 416.9,583.2 418.2,576.4 C419.5,569.6 420.6,561.7 422.6,555.9 C424.2,551.3 425.9,547.6 428.4,544.2 C430.8,540.8 433.7,538.1 437.2,535.4 C441.3,532.2 446.8,529.6 451.9,526.6 C457.5,523.3 463.6,519.8 469.4,516.4 C475.3,513.0 481.1,509.5 487.0,506.1 C492.9,502.7 499.8,498.4 504.6,495.9 C507.9,494.2 510.2,493.4 513.0,492.1 L515.8,496.0 C516.5,503.3 517.2,510.0 517.8,517.8 C518.5,526.8 519.0,537.9 519.8,547.1 C520.5,555.4 521.1,562.8 522.2,570.6 C523.3,578.4 524.5,586.9 526.6,594.0 C528.5,600.4 530.6,606.8 533.9,611.6 C536.9,615.9 541.2,619.7 545.0,621.8 C548.1,623.5 550.5,623.7 554.6,624.2 C561.7,625.1 574.1,624.2 583.9,624.2 L585.4,599.8 C586.4,593.0 587.0,585.8 588.3,579.3 C589.5,573.2 590.8,567.0 592.7,561.8 C594.3,557.4 595.9,553.8 598.6,550.1 C601.6,545.9 605.8,542.0 610.3,538.3 C615.4,534.1 621.7,530.4 627.9,526.6 C634.4,522.6 641.8,518.7 648.4,514.9 C654.5,511.4 659.9,508.0 666.0,504.7 C672.5,501.2 679.6,497.8 686.4,494.4 L689.5,497.5 C690.1,504.3 690.7,510.4 691.2,517.8 C691.8,526.7 692.0,537.3 692.7,547.1 C693.4,556.9 694.3,567.2 695.6,576.4 C696.8,584.7 698.0,593.0 700.0,599.8 C701.6,605.4 702.9,610.6 705.8,614.5 C708.4,618.1 711.4,620.9 716.1,622.7 C723.0,625.3 735.2,623.7 744.7,624.2" fill="none" stroke="#000000" stroke-width="5.3" stroke-linejoin="round" stroke-linecap="round" clip-path="url(#cb)"/>
<path d="M96.3,553.0 C97.2,558.8 98.1,564.2 99.1,570.3 C100.2,577.2 100.9,585.4 102.8,592.3 C104.6,598.8 106.9,605.8 110.1,610.6 C112.7,614.5 115.5,617.6 119.3,619.7 C123.4,622.0 129.0,622.8 133.9,623.4 C138.7,624.0 145.0,624.9 148.5,623.4 C151.1,622.3 152.6,620.6 154.0,617.9 C156.2,613.8 156.3,606.2 157.7,599.6 C159.3,591.8 160.8,581.7 163.2,574.0 C165.2,567.3 167.4,560.8 170.5,555.7 C173.2,551.3 176.0,548.5 180.0,544.7 C185.3,539.7 193.3,534.1 200.0,529.0 C206.6,523.9 213.5,518.7 220.0,514.0 C226.1,509.6 233.1,504.7 237.9,501.4 C241.0,499.2 243.2,497.9 245.8,496.1 L245.8,568.6 C247.1,573.0 248.3,577.2 249.7,581.8 C251.3,586.8 252.9,592.6 255.0,597.6 C256.9,602.3 259.0,607.1 261.6,610.8 C263.9,614.0 266.4,616.7 269.5,618.7 C272.6,620.7 276.1,621.9 280.0,622.8 C284.4,623.8 288.9,623.6 294.6,623.9 C302.7,624.3 318.0,626.3 323.9,624.5 C326.8,623.6 328.2,622.6 329.8,620.3 C332.3,616.7 332.9,609.3 334.2,602.8 C335.8,594.9 336.8,584.9 338.6,576.4 C340.3,568.3 341.8,560.1 344.4,553.0 C346.8,546.6 349.6,540.4 353.2,535.4 C356.5,530.8 360.3,527.2 364.9,523.7 C370.0,519.8 376.4,516.8 382.5,513.5 C389.0,510.0 397.2,505.8 403.0,503.2 C407.1,501.3 410.1,500.3 413.6,498.8 L413.8,567.6 C415.7,574.4 417.5,581.9 419.6,588.1 C421.4,593.5 423.0,598.3 425.5,602.8 C427.9,607.1 430.6,611.4 434.3,614.5 C438.3,617.8 443.0,620.1 448.9,621.8 C456.8,624.1 469.7,624.3 478.2,624.5 C484.8,624.7 492.1,625.9 495.8,623.9 C498.2,622.5 499.0,620.4 500.2,617.4 C502.4,612.2 503.0,602.0 504.6,594.0 C506.3,585.5 507.9,576.0 510.4,567.6 C512.8,559.5 515.3,550.6 519.2,544.2 C522.5,538.8 526.6,534.7 531.0,531.0 C535.2,527.4 539.9,525.2 545.0,522.2 C551.0,518.6 558.2,514.4 565.0,511.0 C571.7,507.6 578.6,504.8 585.4,501.7 L585.4,570.6 C587.4,576.4 589.1,582.3 591.3,588.1 C593.5,594.0 595.7,600.6 598.6,605.7 C601.2,610.2 603.6,614.5 607.4,617.4 C611.3,620.4 615.9,622.0 622.0,623.3 C631.1,625.2 647.8,625.1 657.2,624.5 C663.6,624.1 669.9,624.5 673.3,621.8 C676.1,619.6 676.5,615.9 677.7,611.6 C679.5,604.9 679.4,593.7 681.0,585.2 C682.5,577.1 684.2,568.9 686.8,561.8 C689.2,555.4 692.0,549.2 695.6,544.2 C698.9,539.6 702.8,536.2 707.3,532.5 C712.4,528.3 718.6,524.2 724.8,520.8 C731.1,517.3 738.1,514.9 744.7,512.0" fill="none" stroke="#edb120" stroke-width="5.3" stroke-linejoin="round" stroke-linecap="round" clip-path="url(#cb)"/>
<path d="M805.0,305.0 C810.0,305.5 815.0,306.3 820.0,306.6 C825.0,306.9 830.0,306.9 835.0,306.6 C840.0,306.3 845.0,305.5 850.0,305.0 C855.0,304.5 860.0,304.3 865.0,303.6 C870.0,302.9 875.0,301.9 880.0,300.6 C885.0,299.3 890.0,297.8 895.0,296.0 C900.0,294.2 905.0,291.7 910.0,290.0 C915.0,288.3 920.5,286.6 925.0,285.6 C928.6,284.8 932.0,283.9 935.0,284.0 C937.5,284.1 939.4,284.7 942.0,285.6 C945.5,286.9 950.3,289.5 954.0,291.6 C957.3,293.5 960.0,295.6 963.0,297.6 C966.0,299.6 969.3,302.0 972.0,303.6 C974.2,304.9 975.0,305.8 978.0,306.6 C985.6,308.5 1006.6,307.8 1020.0,308.0 C1032.2,308.2 1045.8,308.2 1055.0,307.8 C1061.0,307.5 1065.0,307.3 1070.0,306.6 C1075.0,305.9 1080.0,304.9 1085.0,303.6 C1090.0,302.3 1095.0,300.8 1100.0,299.0 C1105.0,297.2 1110.0,295.2 1115.0,293.0 C1120.0,290.8 1125.0,287.8 1130.0,285.6 C1135.0,283.4 1140.0,281.6 1145.0,279.6 C1150.0,277.6 1155.0,275.6 1160.0,273.6 C1165.0,271.6 1170.5,269.2 1175.0,267.6 C1178.6,266.3 1181.7,265.6 1185.0,264.6 C1188.3,263.6 1192.3,260.8 1195.0,261.6 C1197.6,262.4 1198.8,266.2 1201.0,269.0 C1203.7,272.5 1206.9,277.4 1210.0,281.0 C1212.9,284.3 1215.9,287.2 1219.0,290.0 C1221.9,292.7 1224.9,295.3 1228.0,297.6 C1230.9,299.8 1233.6,302.8 1237.0,303.6 C1240.8,304.5 1245.2,302.7 1250.0,302.0 C1256.0,301.2 1262.7,300.3 1270.0,299.0 C1279.0,297.4 1290.0,294.7 1300.0,293.0 C1310.0,291.3 1320.0,290.3 1330.0,288.6 C1340.0,286.9 1352.2,283.9 1360.0,282.6 C1364.9,281.8 1368.1,280.3 1372.0,281.0 C1376.1,281.7 1380.2,284.3 1384.0,287.0 C1388.3,290.1 1391.7,295.9 1396.0,299.0 C1399.8,301.7 1403.5,303.6 1408.0,305.0 C1413.1,306.6 1418.2,307.0 1425.0,307.5 C1435.1,308.3 1450.3,307.8 1463.0,308.0" fill="none" stroke="#00ff00" stroke-width="5.3" stroke-linejoin="round" stroke-linecap="round" clip-path="url(#cc)"/>
<path d="M806.0,300.0 C806.7,298.7 807.3,297.8 808.0,296.0 C809.3,292.5 810.8,286.1 812.0,280.0 C813.5,272.2 814.7,261.8 816.0,253.0 C817.2,244.5 818.3,235.8 819.5,228.0 C820.5,221.2 821.3,214.4 822.6,209.0 C823.6,204.8 824.5,200.9 826.0,198.0 C827.1,195.7 828.5,193.1 830.0,192.5 C831.2,192.1 832.6,192.9 834.0,193.5 C835.7,194.3 837.8,197.4 839.5,197.0 C841.7,196.5 843.7,191.1 845.5,188.0 C847.2,185.1 848.2,181.1 850.0,179.0 C851.3,177.5 853.1,175.8 854.5,176.0 C856.1,176.3 857.1,181.3 859.0,182.0 C860.7,182.6 863.2,180.2 865.0,180.5 C866.7,180.8 868.1,182.1 869.5,183.5 C871.2,185.3 872.7,187.8 874.0,191.0 C875.9,195.6 877.1,202.4 878.5,209.0 C880.2,217.1 881.5,226.8 883.0,236.0 C884.5,245.7 885.9,256.6 887.5,266.0 C888.9,274.5 890.3,283.0 892.0,290.0 C893.4,295.6 894.3,302.1 896.5,305.0 C897.8,306.7 899.3,307.5 901.0,308.0 C902.8,308.5 904.6,308.2 907.0,308.0 C910.5,307.7 916.0,306.8 920.0,306.0 C923.6,305.3 927.1,304.6 930.0,303.6 C932.3,302.8 934.0,300.8 936.0,300.6 C938.0,300.4 939.6,301.7 942.0,302.0 C945.3,302.4 950.4,302.8 954.0,302.0 C957.3,301.2 960.5,299.6 963.0,297.6 C965.5,295.6 967.1,292.9 969.0,290.0 C971.2,286.6 973.4,282.7 975.0,278.0 C977.1,272.1 978.0,264.0 979.5,257.0 C981.0,250.0 982.3,243.0 984.0,236.0 C985.8,229.0 988.2,221.7 990.0,215.0 C991.7,208.8 993.1,203.2 994.5,197.0 C996.1,190.3 997.4,182.7 999.0,176.0 C1000.4,169.8 1001.8,163.1 1003.5,158.0 C1004.9,154.0 1006.4,150.8 1008.0,147.5 C1009.5,144.4 1011.0,141.3 1012.6,138.5 C1014.0,135.9 1015.1,132.8 1017.0,131.0 C1018.7,129.4 1021.2,127.9 1023.0,128.0 C1024.7,128.1 1026.1,130.0 1027.6,131.0 C1029.1,132.0 1030.3,133.5 1032.0,134.0 C1033.8,134.5 1036.0,134.1 1038.0,134.0 C1040.0,133.9 1042.0,133.8 1044.0,133.4 C1046.0,133.0 1048.1,132.5 1050.0,131.6 C1052.1,130.7 1053.9,129.1 1056.0,128.0 C1058.1,126.9 1060.4,124.8 1062.5,125.0 C1064.6,125.2 1066.5,127.7 1068.5,129.5 C1070.9,131.6 1073.9,133.8 1076.0,137.0 C1078.6,140.9 1080.1,146.7 1082.0,152.0 C1084.1,157.7 1086.0,164.0 1088.0,170.0 C1090.0,176.0 1091.9,182.3 1094.0,188.0 C1095.9,193.3 1098.0,198.0 1100.0,203.0 C1102.0,208.0 1104.0,213.0 1106.0,218.0 C1108.0,223.0 1110.1,227.7 1112.0,233.0 C1114.1,238.7 1116.2,245.0 1118.0,251.0 C1119.7,257.0 1121.1,262.8 1122.5,269.0 C1124.1,275.7 1125.3,283.6 1127.0,290.0 C1128.4,295.5 1129.4,302.3 1131.6,305.0 C1132.9,306.6 1134.2,307.3 1136.0,307.5 C1138.4,307.8 1142.0,305.1 1145.0,305.0 C1148.0,304.9 1151.4,307.2 1154.0,306.6 C1156.3,306.0 1157.9,302.2 1160.0,302.0 C1161.9,301.8 1164.0,305.0 1166.0,305.0 C1168.0,305.0 1170.0,302.2 1172.0,302.0 C1174.0,301.8 1175.9,303.7 1178.0,303.6 C1180.3,303.4 1182.6,301.4 1185.0,300.6 C1187.3,299.9 1189.8,299.0 1192.0,299.0 C1194.1,299.0 1196.0,300.8 1198.0,300.6 C1200.0,300.4 1201.8,297.8 1204.0,297.6 C1206.7,297.4 1210.4,301.0 1213.0,300.6 C1215.3,300.2 1217.3,298.4 1219.0,296.0 C1221.7,292.2 1223.5,282.4 1225.0,278.0 C1225.8,275.5 1226.3,274.0 1227.0,272.0 L1230.0,296.0 C1230.8,296.0 1231.7,296.6 1232.5,296.0 C1235.2,293.8 1236.5,276.0 1238.5,266.0 C1240.5,256.0 1242.4,245.4 1244.5,236.0 C1246.4,227.5 1247.6,217.1 1250.5,212.0 C1252.2,209.0 1254.8,208.1 1256.6,206.0 C1258.3,204.1 1259.4,201.6 1261.0,200.0 C1262.4,198.7 1264.1,198.0 1265.6,197.0 C1267.1,196.0 1268.6,193.8 1270.0,194.0 C1271.6,194.3 1273.3,197.3 1274.6,200.0 C1276.6,204.2 1277.6,211.8 1279.0,218.0 C1280.6,224.7 1282.0,232.3 1283.6,239.0 C1285.0,245.2 1286.2,251.3 1288.0,257.0 C1289.7,262.3 1291.9,267.3 1294.0,272.0 C1295.9,276.3 1298.0,280.6 1300.0,284.0 C1301.6,286.7 1303.3,288.9 1305.0,291.0 C1306.5,292.9 1308.0,294.2 1309.5,296.0 C1311.0,297.9 1312.0,300.3 1314.0,302.0 C1316.3,304.0 1319.7,305.8 1323.0,306.6 C1326.6,307.5 1330.8,306.8 1335.0,306.6 C1339.7,306.3 1345.0,305.0 1350.0,305.0 C1355.0,305.0 1360.7,307.4 1365.0,306.6 C1368.5,306.0 1371.3,303.4 1374.0,302.0 C1376.2,300.9 1377.8,299.2 1380.0,299.0 C1382.7,298.8 1386.0,301.7 1389.0,302.0 C1392.0,302.2 1395.6,302.3 1398.0,300.6 C1400.8,298.7 1402.2,294.4 1404.0,290.0 C1406.5,283.7 1408.1,274.5 1410.0,266.0 C1412.1,256.6 1413.9,245.4 1416.0,236.0 C1417.9,227.5 1419.7,219.0 1422.0,212.0 C1423.8,206.3 1425.7,200.4 1428.0,197.0 C1429.4,194.9 1430.8,193.5 1432.6,192.5 C1434.4,191.5 1436.8,191.8 1438.6,191.0 C1440.3,190.3 1441.4,188.9 1443.0,188.0 C1444.8,186.9 1447.1,186.2 1449.0,185.0 C1451.1,183.7 1452.8,181.9 1455.0,180.5 C1457.4,178.9 1460.3,177.5 1463.0,176.0" fill="none" stroke="#ff0000" stroke-width="5.3" stroke-linejoin="round" stroke-linecap="round" clip-path="url(#cc)"/>
<path d="M806.5,296.0 C807.5,292.0 808.5,287.8 809.5,284.0 C810.5,280.4 810.8,275.9 812.5,273.6 C813.7,272.0 815.4,270.6 817.0,270.6 C818.9,270.6 821.2,273.0 823.0,275.0 C825.3,277.6 827.0,282.1 829.0,285.6 C831.0,289.1 832.5,292.8 835.0,296.0 C837.5,299.3 840.7,303.0 844.0,305.0 C846.8,306.7 849.1,307.3 853.0,308.0 C859.5,309.1 869.4,308.6 880.0,308.7 C895.1,308.8 927.3,309.4 935.0,308.0 C937.1,307.6 937.9,307.7 939.0,306.6 C940.7,304.8 941.2,300.6 942.0,296.0 C943.5,287.6 943.8,269.9 945.0,260.0 C945.9,252.9 946.6,247.3 948.0,242.0 C949.2,237.5 950.9,233.7 952.5,230.0 C953.9,226.7 955.8,224.7 957.0,221.0 C958.7,215.6 959.0,207.0 960.0,200.0 C961.0,193.0 962.0,185.2 963.0,179.0 C963.8,174.0 964.5,169.1 965.4,165.5 C966.0,163.1 966.9,159.4 967.5,159.5 C969.1,159.7 969.8,186.1 970.5,200.0 C971.3,214.6 971.3,231.2 972.0,245.0 C972.6,256.9 973.4,269.7 974.4,278.0 C975.0,283.0 974.8,287.9 976.5,290.0 C977.6,291.3 979.4,290.9 981.0,291.6 C982.9,292.4 984.8,293.7 987.0,294.6 C989.7,295.7 993.0,296.4 996.0,297.6 C999.0,298.8 1002.0,300.5 1005.0,302.0 C1008.0,303.5 1010.5,305.6 1014.0,306.6 C1018.3,307.8 1023.1,307.7 1029.0,308.0 C1037.5,308.5 1046.7,308.6 1060.0,308.7 C1083.8,309.0 1144.6,309.3 1160.0,308.7 C1164.6,308.5 1165.9,308.3 1169.0,308.0 C1172.5,307.6 1176.6,307.4 1180.0,306.6 C1183.2,305.9 1186.1,304.4 1189.0,303.6 C1191.6,302.9 1194.8,303.7 1196.5,302.0 C1198.7,299.9 1198.8,295.3 1199.5,290.0 C1200.9,279.8 1200.4,260.0 1201.0,245.0 C1201.7,230.0 1202.5,212.7 1203.4,200.0 C1204.1,190.7 1204.0,181.2 1205.5,176.0 C1206.3,173.2 1207.3,170.1 1208.5,170.0 C1209.8,169.9 1211.5,174.0 1213.0,176.0 C1214.5,178.0 1216.1,182.1 1217.5,182.0 C1219.1,181.9 1220.5,175.1 1222.0,173.0 C1223.0,171.6 1224.2,169.8 1225.0,170.0 C1226.4,170.4 1226.7,177.0 1227.4,182.0 C1228.5,190.2 1228.8,203.1 1229.5,215.0 C1230.3,228.8 1230.6,247.8 1231.6,260.0 C1232.3,268.3 1232.0,276.7 1234.0,281.0 C1235.1,283.4 1236.7,285.1 1238.5,285.6 C1240.2,286.1 1242.5,283.7 1244.5,284.0 C1246.9,284.4 1249.6,286.6 1252.0,288.6 C1254.7,290.9 1257.0,294.8 1259.6,297.6 C1262.0,300.2 1264.0,303.3 1267.0,305.0 C1270.3,306.9 1274.0,307.3 1279.0,308.0 C1286.9,309.1 1300.2,309.1 1310.0,309.0 C1318.8,308.9 1326.3,307.7 1335.0,307.5 C1344.5,307.3 1359.5,309.6 1365.0,308.0 C1367.3,307.3 1368.3,307.1 1369.5,305.0 C1372.9,299.0 1370.8,274.2 1371.6,260.0 C1372.3,247.3 1373.0,235.1 1374.0,224.0 C1374.9,214.3 1375.3,202.7 1377.0,197.0 C1377.8,194.2 1378.8,192.2 1380.0,191.0 C1380.9,190.1 1381.9,190.0 1383.0,189.5 C1384.4,188.9 1386.4,188.9 1387.6,188.0 C1388.9,187.0 1389.6,185.0 1390.6,183.5 C1391.6,182.0 1392.9,178.9 1393.6,179.0 C1394.4,179.1 1394.6,182.0 1395.0,185.0 C1396.1,193.0 1396.0,214.8 1396.6,230.0 C1397.2,245.7 1397.7,265.9 1398.7,278.0 C1399.3,285.5 1399.6,295.8 1401.0,296.0 C1402.1,296.2 1403.7,287.9 1405.6,285.6 C1406.9,284.0 1408.5,282.5 1410.0,282.6 C1411.9,282.8 1413.8,286.4 1416.0,288.6 C1418.7,291.3 1421.8,295.3 1425.0,297.6 C1427.8,299.6 1430.7,300.8 1434.0,302.0 C1437.6,303.3 1441.6,304.1 1446.0,305.0 C1451.2,306.1 1457.3,307.0 1463.0,308.0" fill="none" stroke="#edb120" stroke-width="5.3" stroke-linejoin="round" stroke-linecap="round" clip-path="url(#cc)"/>
<path d="M805.0,308.0 C807.0,307.0 809.0,306.2 811.0,305.0 C813.1,303.7 814.9,301.6 817.0,300.6 C818.9,299.7 821.0,299.0 823.0,299.0 C825.0,299.0 827.0,300.6 829.0,300.6 C831.0,300.6 833.3,300.2 835.0,299.0 C837.0,297.5 837.8,293.4 839.5,291.6 C840.9,290.2 842.3,289.4 844.0,288.6 C845.8,287.8 848.1,287.5 850.0,287.0 C851.6,286.5 853.0,285.6 854.5,285.6 C856.0,285.6 857.5,286.5 859.0,287.0 C860.5,287.5 862.1,288.9 863.5,288.6 C865.1,288.2 866.7,286.1 868.0,284.0 C869.9,281.1 871.0,276.0 872.5,272.0 C874.0,268.0 875.2,263.8 877.0,260.0 C878.7,256.3 880.9,252.7 883.0,249.6 C884.9,246.8 886.9,244.3 889.0,242.0 C890.9,239.8 893.2,238.2 895.0,236.0 C896.8,233.7 898.0,230.8 899.6,228.5 C901.0,226.4 902.3,223.7 904.0,222.5 C905.4,221.5 907.2,220.7 908.6,221.0 C910.2,221.4 911.5,225.5 913.0,225.5 C914.5,225.5 916.0,221.1 917.6,221.0 C919.0,220.9 920.7,222.4 922.0,224.0 C924.0,226.5 925.2,231.5 926.6,236.0 C928.3,241.3 929.6,248.0 931.0,254.0 C932.4,260.0 933.3,266.8 935.0,272.0 C936.4,276.2 938.2,279.8 940.0,283.0 C941.5,285.7 943.0,287.6 945.0,290.0 C947.5,292.9 950.8,296.5 954.0,299.0 C956.9,301.3 959.7,303.0 963.0,304.5 C966.6,306.1 969.7,307.1 975.0,308.0 C985.1,309.6 1007.3,309.7 1020.0,309.6 C1029.2,309.6 1035.8,308.7 1044.0,308.5 C1052.5,308.3 1065.1,312.2 1070.0,308.5 C1073.8,305.6 1073.0,298.1 1074.5,293.0 C1076.0,288.0 1077.0,281.4 1079.0,278.0 C1080.3,275.9 1082.2,275.6 1083.5,273.6 C1085.3,271.0 1086.2,266.3 1088.0,263.0 C1089.7,259.8 1092.0,256.2 1094.0,254.0 C1095.5,252.4 1097.1,250.3 1098.5,250.5 C1100.1,250.8 1101.4,255.1 1103.0,257.0 C1104.4,258.7 1106.1,261.8 1107.5,261.6 C1109.1,261.4 1110.7,257.2 1112.0,254.0 C1113.9,249.4 1114.8,241.1 1116.5,236.0 C1117.9,232.0 1119.0,226.4 1121.0,225.5 C1122.3,224.9 1124.1,227.4 1125.5,227.0 C1127.2,226.5 1128.3,222.9 1130.0,221.0 C1131.8,218.9 1133.9,215.1 1136.0,215.0 C1137.9,214.9 1139.9,218.2 1142.0,219.5 C1143.9,220.7 1146.0,222.5 1148.0,222.5 C1150.0,222.5 1152.2,220.6 1154.0,219.5 C1155.7,218.5 1157.1,216.4 1158.6,216.5 C1160.1,216.6 1161.4,220.1 1163.0,220.5 C1164.4,220.9 1166.2,220.4 1167.6,219.5 C1169.3,218.4 1170.4,215.3 1172.0,213.5 C1173.5,211.8 1175.4,211.3 1176.6,209.0 C1178.8,204.8 1178.5,194.2 1179.6,188.0 C1180.5,183.0 1181.3,177.5 1182.6,174.5 C1183.3,172.9 1184.1,171.0 1185.0,171.0 C1186.1,171.0 1187.8,173.6 1189.0,176.0 C1191.0,180.0 1192.0,188.0 1193.5,194.0 C1195.0,200.0 1196.4,206.3 1198.0,212.0 C1199.4,217.2 1201.0,222.0 1202.5,227.0 C1204.0,232.0 1205.5,237.0 1207.0,242.0 C1208.5,247.0 1210.0,252.0 1211.5,257.0 C1213.0,262.0 1214.3,267.0 1216.0,272.0 C1217.8,277.0 1219.9,282.3 1222.0,287.0 C1223.9,291.3 1226.1,295.5 1228.0,299.0 C1229.6,301.9 1230.9,306.4 1232.5,306.6 C1233.9,306.8 1235.3,303.5 1237.0,302.0 C1238.8,300.4 1241.0,299.1 1243.0,297.6 C1245.0,296.1 1246.9,294.0 1249.0,293.0 C1250.9,292.1 1253.0,292.1 1255.0,291.6 C1257.0,291.1 1259.0,290.5 1261.0,290.0 C1263.0,289.5 1265.3,289.8 1267.0,288.6 C1269.0,287.1 1270.1,283.5 1271.6,281.0 C1273.1,278.5 1274.2,274.6 1276.0,273.6 C1277.3,272.8 1279.3,272.8 1280.6,273.6 C1282.4,274.6 1283.2,279.5 1285.0,281.0 C1286.3,282.1 1288.2,283.0 1289.6,282.6 C1291.3,282.1 1292.4,278.4 1294.0,276.6 C1295.5,274.9 1297.0,272.4 1298.6,272.0 C1300.0,271.7 1301.3,273.6 1303.0,273.6 C1305.3,273.6 1308.5,270.8 1311.0,270.6 C1313.1,270.5 1315.4,272.8 1317.0,272.0 C1319.1,271.0 1320.0,266.0 1321.5,263.0 C1323.0,260.0 1324.5,257.0 1326.0,254.0 C1327.5,251.0 1329.3,248.5 1330.5,245.0 C1332.0,240.7 1332.3,235.2 1333.5,230.0 C1334.8,224.3 1336.3,215.9 1338.0,212.0 C1338.9,209.9 1339.9,207.5 1341.0,207.5 C1342.4,207.5 1343.9,214.9 1345.5,215.0 C1346.9,215.1 1348.6,208.9 1350.0,209.0 C1351.6,209.1 1353.2,214.3 1354.5,218.0 C1356.4,223.4 1357.4,232.3 1359.0,239.0 C1360.4,245.2 1361.5,251.7 1363.5,257.0 C1365.2,261.5 1367.2,265.4 1369.5,269.0 C1371.7,272.4 1374.3,275.1 1377.0,278.0 C1379.8,281.1 1383.1,284.4 1386.0,287.0 C1388.6,289.3 1391.6,290.5 1393.6,293.0 C1395.6,295.5 1396.2,299.4 1398.0,302.0 C1399.7,304.4 1401.1,306.6 1404.0,308.0 C1408.6,310.1 1417.0,309.3 1425.0,309.6 C1435.8,310.0 1450.3,309.6 1463.0,309.6" fill="none" stroke="#000000" stroke-width="5.3" stroke-linejoin="round" stroke-linecap="round" clip-path="url(#cc)"/>
<path d="M805.0,290.0 C806.0,292.0 806.9,293.8 808.0,296.0 C809.3,298.7 810.3,303.0 812.5,305.0 C814.5,306.8 816.4,307.2 820.0,308.0 C828.6,309.8 850.5,309.3 865.0,309.6 C878.5,309.8 897.0,313.0 904.0,309.6 C907.5,307.9 908.2,305.3 910.0,302.0 C912.5,297.4 914.0,290.0 916.0,284.0 C918.0,278.0 919.6,270.8 922.0,266.0 C923.8,262.3 925.7,259.6 928.0,257.0 C930.1,254.6 932.8,253.5 935.0,251.0 C937.5,248.1 939.4,241.5 942.0,240.5 C943.8,239.8 946.1,242.5 948.0,242.0 C950.2,241.4 952.3,238.2 954.0,236.0 C955.8,233.7 956.8,229.9 958.5,228.5 C959.7,227.5 961.4,226.5 962.4,227.0 C964.0,227.7 964.6,232.2 965.4,236.0 C966.6,242.0 966.8,252.0 967.5,260.0 C968.2,268.0 968.7,276.9 969.6,284.0 C970.3,289.6 970.5,295.0 972.0,299.0 C973.1,302.1 974.1,304.9 976.5,306.6 C979.5,308.7 983.0,308.1 990.0,308.7 C1014.3,310.6 1136.7,315.4 1154.0,309.6 C1157.7,308.3 1158.2,307.2 1160.0,305.0 C1162.4,302.1 1163.7,296.2 1166.0,293.0 C1167.8,290.5 1170.0,289.0 1172.0,287.0 C1174.0,285.0 1176.3,283.4 1178.0,281.0 C1179.9,278.4 1181.3,275.0 1182.6,272.0 C1183.9,269.0 1184.8,266.7 1186.0,263.0 C1187.8,257.5 1189.8,248.4 1192.0,242.0 C1193.9,236.5 1195.3,229.9 1198.0,227.0 C1199.7,225.1 1202.0,225.0 1204.0,224.0 C1206.0,223.0 1208.1,222.4 1210.0,221.0 C1212.1,219.5 1213.9,215.3 1216.0,215.0 C1217.9,214.7 1220.4,216.2 1222.0,218.0 C1224.2,220.5 1225.3,225.0 1226.5,230.0 C1228.3,237.7 1228.6,250.0 1229.5,260.0 C1230.3,270.0 1230.3,281.8 1231.6,290.0 C1232.6,295.9 1232.7,301.9 1235.5,305.0 C1237.9,307.6 1240.7,307.8 1246.0,308.7 C1260.1,311.1 1312.9,312.8 1326.0,308.5 C1330.9,306.9 1332.1,304.5 1335.0,302.0 C1338.1,299.4 1341.1,296.3 1344.0,293.0 C1347.1,289.4 1350.2,285.1 1353.0,281.0 C1355.7,277.1 1358.3,273.3 1360.5,269.0 C1362.8,264.4 1364.6,259.3 1366.5,254.0 C1368.6,248.3 1370.0,236.9 1372.5,236.0 C1373.8,235.5 1375.4,238.9 1377.0,239.0 C1378.8,239.1 1381.1,237.4 1383.0,236.0 C1385.1,234.5 1387.1,230.8 1389.0,230.0 C1390.3,229.5 1391.7,229.2 1392.7,230.0 C1394.6,231.7 1394.3,239.0 1395.0,245.0 C1396.0,253.8 1396.6,268.2 1397.5,278.0 C1398.2,285.8 1398.1,293.6 1399.6,299.0 C1400.7,302.7 1400.6,305.8 1404.0,308.0 C1412.3,313.3 1443.3,309.1 1463.0,309.6" fill="none" stroke="#4dbeee" stroke-width="5.3" stroke-linejoin="round" stroke-linecap="round" clip-path="url(#cc)"/>
<path d="M805.0,250.0 L808.0,249.1 L811.1,248.2 L814.1,247.3 L817.1,246.4 L820.1,245.5 L823.2,244.6 L826.2,243.6 L829.2,242.6 L832.2,241.7 L835.3,240.7 L838.3,239.7 L841.3,238.7 L844.3,237.7 L847.4,236.6 L850.4,235.6 L853.4,234.6 L856.4,233.5 L859.5,232.4 L862.5,231.3 L865.5,230.2 L868.5,229.1 L871.6,228.0 L874.6,226.9 L877.6,225.7 L880.6,224.6 L883.7,223.4 L886.7,222.2 L889.7,221.0 L892.7,219.8 L895.8,218.6 L898.8,217.4 L901.8,216.1 L904.8,214.9 L907.9,213.6 L910.9,212.4 L913.9,211.1 L916.9,209.8 L920.0,208.5 L923.0,207.2 L926.0,205.8 L929.0,204.5 L932.1,203.1 L935.1,201.8 L938.1,200.4 L941.1,199.0 L944.2,197.6 L947.2,196.2 L950.2,194.8 L953.2,193.3 L956.3,191.9 L959.3,190.4 L962.3,189.0 L965.3,187.5 L968.4,186.0 L971.4,184.5 L971.8,259.5 L974.8,259.0 L977.9,258.5 L980.9,258.0 L983.9,257.4 L987.0,256.9 L990.0,256.3 L993.0,255.7 L996.1,255.0 L999.1,254.4 L1002.1,253.7 L1005.1,253.0 L1008.2,252.3 L1011.2,251.6 L1014.2,250.9 L1017.3,250.1 L1020.3,249.3 L1023.3,248.5 L1026.4,247.7 L1029.4,246.8 L1032.4,246.0 L1035.5,245.1 L1038.5,244.2 L1041.5,243.3 L1044.6,242.4 L1047.6,241.4 L1050.6,240.4 L1053.7,239.4 L1056.7,238.4 L1059.7,237.4 L1062.8,236.3 L1065.8,235.2 L1068.8,234.1 L1071.8,233.0 L1074.9,231.9 L1077.9,230.7 L1080.9,229.6 L1084.0,228.4 L1087.0,227.2 L1090.0,225.9 L1093.1,224.7 L1096.1,223.4 L1099.1,222.1 L1102.2,220.8 L1105.2,219.5 L1108.2,218.1 L1111.3,216.8 L1114.3,215.4 L1117.3,214.0 L1120.4,212.6 L1123.4,211.1 L1126.4,209.7 L1129.5,208.2 L1132.5,206.7 L1135.5,205.1 L1138.5,203.6 L1141.6,202.0 L1144.6,200.5 L1147.6,198.9 L1150.7,197.2 L1153.7,195.6 L1156.7,193.9 L1159.8,192.3 L1162.8,190.6 L1165.8,188.9 L1168.9,187.1 L1171.9,185.4 L1174.9,183.6 L1178.0,181.8 L1181.0,180.0 L1184.0,178.1 L1187.1,176.3 L1190.1,174.4 L1193.1,172.5 L1196.2,170.6 L1199.2,168.7 L1202.2,166.7 L1205.2,164.8 L1208.3,162.8 L1211.3,160.8 L1214.3,158.7 L1217.4,156.7 L1220.4,154.6 L1223.4,152.5 L1226.5,150.4 L1229.5,148.3 L1230.5,244.5 L1233.5,243.6 L1236.5,242.7 L1239.5,241.8 L1242.5,240.8 L1245.5,239.9 L1248.5,238.9 L1251.5,237.9 L1254.5,236.9 L1257.5,235.9 L1260.5,234.9 L1263.5,233.8 L1266.5,232.8 L1269.5,231.7 L1272.5,230.6 L1275.5,229.5 L1278.5,228.4 L1281.5,227.3 L1284.5,226.1 L1287.5,225.0 L1290.5,223.8 L1293.5,222.6 L1296.5,221.4 L1299.5,220.2 L1302.5,219.0 L1305.5,217.7 L1308.5,216.4 L1311.5,215.2 L1314.5,213.9 L1317.5,212.6 L1320.5,211.3 L1323.5,209.9 L1326.5,208.6 L1329.5,207.2 L1332.5,205.8 L1335.5,204.4 L1338.5,203.0 L1341.5,201.6 L1344.5,200.2 L1347.5,198.7 L1350.5,197.2 L1353.5,195.8 L1356.5,194.3 L1359.5,192.8 L1362.5,191.2 L1365.5,189.7 L1368.5,188.1 L1371.5,186.6 L1374.5,185.0 L1377.5,183.4 L1380.5,181.8 L1383.5,180.2 L1386.5,178.5 L1389.5,176.9 L1392.5,175.2 L1395.5,173.5 L1398.0,254.0 L1401.0,253.2 L1404.0,252.4 L1407.0,251.6 L1410.0,250.8 L1413.0,250.0 L1416.0,249.2 L1419.0,248.3 L1422.0,247.5 L1425.0,246.7 L1428.0,245.8 L1431.0,245.0 L1434.0,244.2 L1437.0,243.3 L1440.0,242.5 L1443.0,241.6 L1446.0,240.7 L1449.0,239.9 L1452.0,239.0 L1455.0,238.1 L1458.0,237.3 L1461.0,236.4 L1464.0,235.5" fill="none" stroke="#0000ff" stroke-width="5.3" stroke-linejoin="round" stroke-linecap="round" clip-path="url(#cc)"/>
<path d="M809.0,498.6 L816.0,498.6 L818.0,512.6 L820.0,526.6 L822.1,540.7 L824.2,554.8 L827.0,554.8 L830.0,540.7 L833.0,540.7 L837.2,526.6 L839.3,540.7 L841.3,526.6 L843.5,540.7 L846.4,526.6 L848.5,540.7 L851.4,554.8 L854.5,540.7 L857.2,498.6 L861.3,456.4 L863.7,470.4 L866.1,470.4 L868.5,484.5 L872.5,442.4 L875.8,442.4 L879.8,428.3 L881.4,400.2 L883.0,414.2 L884.6,428.3 L887.0,442.4 L889.4,442.4 L891.1,456.4 L892.7,470.4 L895.9,414.2 L897.5,400.2 L899.9,414.2 L906.4,414.2 L909.6,442.4 L911.2,470.4 L912.8,484.5 L914.4,498.6 L916.0,470.4 L917.6,484.5 L920.8,498.6 L925.0,498.6 L928.9,442.4 L940.5,442.4 L943.0,470.4 L947.4,498.6 L952.0,484.5 L955.4,470.4 L958.9,484.5 L961.2,498.6 L964.7,512.6 L968.2,498.6 L971.6,484.5 L973.9,498.6 L976.2,526.6 L979.7,526.6 L984.3,498.6 L989.0,498.6 L992.4,526.6 L994.7,512.6 L998.2,540.7 L1001.7,554.8 L1004.0,540.7 L1007.4,526.6 L1009.7,540.7 L1012.1,512.6 L1014.4,526.6 L1017.8,540.7 L1021.3,526.6 L1026.9,526.6 L1030.4,540.7 L1032.7,554.8 L1036.2,540.7 L1040.8,554.8 L1044.3,484.5 L1047.7,484.5 L1050.0,526.6 L1052.4,498.6 L1055.0,456.4 L1058.2,484.5 L1059.3,526.6 L1061.6,554.8 L1065.1,568.8 L1067.4,582.9 L1072.0,554.8 L1074.3,498.6 L1077.8,498.6 L1081.2,484.5 L1081.8,456.4 L1084.0,470.4 L1086.9,484.5 L1090.1,414.2 L1093.3,414.2 L1095.4,428.3 L1097.5,400.2 L1099.6,358.1 L1101.8,386.1 L1103.9,414.2 L1106.0,442.4 L1108.1,456.4 L1110.3,484.5 L1113.4,428.3 L1115.5,456.4 L1117.7,470.4 L1119.8,484.5 L1124.0,442.4 L1127.2,456.4 L1129.6,498.6 L1131.9,512.6 L1135.4,498.6 L1138.9,526.6 L1143.5,526.6 L1147.0,498.6 L1151.5,456.4 L1154.0,470.4 L1159.0,456.4 L1162.2,470.4 L1163.5,498.6 L1166.6,498.6 L1168.5,456.4 L1170.7,442.4 L1172.8,442.4 L1174.9,484.5 L1177.0,540.7 L1179.3,498.6 L1182.8,512.6 L1186.2,554.8 L1189.7,568.8 L1192.0,526.6 L1195.5,484.5 L1199.0,484.5 L1202.4,512.6 L1204.7,526.6 L1208.2,484.5 L1212.8,484.5 L1216.3,442.4 L1218.4,442.4 L1221.6,470.4 L1224.8,428.3 L1228.0,414.2 L1230.1,414.2 L1232.2,428.3 L1233.5,526.6 L1235.8,554.8 L1239.0,512.6 L1242.7,484.5 L1245.0,498.6 L1247.3,512.6 L1249.6,498.6 L1252.0,512.6 L1254.3,526.6 L1256.6,512.6 L1260.0,484.5 L1262.0,470.4 L1264.0,442.4 L1266.0,470.4 L1268.1,540.7 L1271.6,554.8 L1276.2,554.8 L1279.7,540.7 L1283.0,554.8 L1286.6,568.8 L1290.1,512.6 L1293.6,484.5 L1296.0,470.4 L1300.0,470.4 L1300.5,484.5 L1302.8,498.6 L1305.1,512.6 L1307.4,540.7 L1309.7,582.9 L1313.2,554.8 L1316.7,540.7 L1319.0,512.6 L1322.4,540.7 L1325.0,554.8 L1328.0,526.6 L1331.0,498.6 L1334.0,456.4 L1337.0,428.3 L1341.0,456.4 L1344.0,442.4 L1347.7,428.3 L1350.9,428.3 L1354.1,456.4 L1357.3,456.4 L1360.4,498.6 L1363.9,498.6 L1367.4,484.5 L1369.7,526.6 L1373.2,484.5 L1376.0,484.5 L1380.0,442.4 L1383.9,414.2 L1389.2,414.2 L1391.3,456.4 L1394.5,442.4 L1398.7,442.4 L1402.1,540.7 L1404.4,568.8 L1406.7,554.8 L1410.2,568.8 L1414.8,568.8 L1418.3,526.6 L1421.7,554.8 L1424.1,596.9 L1427.5,568.8 L1431.0,540.7 L1434.5,540.7 L1437.9,554.8 L1441.0,540.7 L1444.9,512.6 L1448.3,484.5 L1451.8,498.6 L1455.3,484.5 L1458.8,512.6 L1462.2,512.6 L1466.0,540.7" fill="none" stroke="#ff0000" stroke-width="5.3" stroke-linejoin="round" stroke-linecap="round" clip-path="url(#cd)"/>
<path d="M809.0,582.9 L811.0,582.9 L813.0,568.8 L816.1,540.7 L833.2,540.7 L837.3,526.6 L840.3,526.6 L842.5,540.7 L846.0,554.8 L850.0,540.7 L855.0,526.6 L858.0,526.6 L861.0,512.6 L865.0,512.6 L868.5,498.6 L872.0,498.6 L876.0,484.5 L880.0,484.5 L884.4,470.4 L887.0,456.4 L889.0,470.4 L892.0,484.5 L896.0,498.6 L900.0,512.6 L905.0,512.6 L910.0,526.6 L914.0,512.6 L918.5,540.7 L921.9,568.8 L925.4,540.7 L928.8,554.8 L932.3,512.6 L934.6,512.6 L938.1,540.7 L940.4,554.8 L943.9,540.7 L947.4,554.8 L950.8,568.8 L954.3,582.9 L956.6,596.9 L958.9,582.9 L961.2,568.8 L963.5,554.8 L967.0,554.8 L970.5,540.7 L972.8,554.8 L976.2,582.9 L979.7,582.9 L982.0,554.8 L985.5,540.7 L987.8,554.8 L990.1,568.8 L992.4,582.9 L994.7,568.8 L998.2,568.8 L1000.5,582.9 L1004.0,582.9 L1007.4,568.8 L1010.9,582.9 L1014.4,568.8 L1017.8,582.9 L1021.3,568.8 L1025.8,568.8 L1026.9,554.8 L1030.4,554.8 L1032.7,582.9 L1036.2,596.9 L1039.6,611.0 L1043.1,596.9 L1047.7,596.9 L1052.4,625.0 L1054.7,611.0 L1059.3,582.9 L1066.2,554.8 L1069.7,568.8 L1073.0,554.8 L1077.0,526.6 L1081.0,512.6 L1085.0,498.6 L1090.0,484.5 L1094.0,470.4 L1097.5,470.4 L1100.0,484.5 L1104.0,512.6 L1108.0,526.6 L1112.4,540.7 L1117.1,554.8 L1119.4,526.6 L1122.8,540.7 L1127.0,526.6 L1130.8,512.6 L1134.2,526.6 L1137.0,498.6 L1140.0,470.4 L1143.0,456.4 L1146.2,470.4 L1148.4,428.3 L1153.7,428.3 L1155.8,442.4 L1159.0,442.4 L1162.2,470.4 L1166.0,498.6 L1171.2,540.7 L1173.5,554.8 L1177.0,554.8 L1180.0,568.8 L1183.9,582.9 L1187.4,596.9 L1190.9,625.0 L1194.3,625.0 L1196.6,596.9 L1200.1,582.9 L1203.6,596.9 L1207.0,611.0 L1210.5,582.9 L1214.0,554.8 L1217.4,568.8 L1220.9,596.9 L1224.4,596.9 L1227.8,611.0 L1231.3,625.0 L1236.0,611.0 L1240.0,582.9 L1244.0,554.8 L1248.5,540.7 L1252.0,526.6 L1254.3,540.7 L1256.6,568.8 L1258.9,596.9 L1261.2,611.0 L1263.5,582.9 L1267.0,540.7 L1270.4,484.5 L1272.8,498.6 L1276.0,526.6 L1280.0,554.8 L1285.0,568.8 L1290.0,582.9 L1295.0,582.9 L1300.0,554.8 L1305.0,526.6 L1309.7,512.6 L1313.2,512.6 L1316.7,526.6 L1321.3,540.7 L1324.8,554.8 L1332.8,554.8 L1336.3,568.8 L1341.9,568.8 L1345.4,582.9 L1347.7,596.9 L1350.0,596.9 L1352.3,582.9 L1358.1,554.8 L1360.4,568.8 L1363.9,568.8 L1367.4,554.8 L1370.9,540.7 L1375.0,526.6 L1383.6,526.6 L1387.0,554.8 L1390.5,582.9 L1392.8,596.9 L1396.3,611.0 L1399.0,582.9 L1402.1,568.8 L1405.6,582.9 L1409.0,582.9 L1416.0,568.8 L1419.4,554.8 L1422.9,554.8 L1426.4,540.7 L1429.8,526.6 L1433.3,526.6 L1436.8,540.7 L1440.3,568.8 L1466.0,568.8" fill="none" stroke="#00ff00" stroke-width="5.3" stroke-linejoin="round" stroke-linecap="round" clip-path="url(#cd)"/>
<path d="M809.0,611.0 L811.0,611.0 L814.0,582.9 L817.0,596.9 L821.0,582.9 L824.2,596.9 L826.2,611.0 L835.3,611.0 L837.3,582.9 L839.3,540.7 L842.3,540.7 L844.4,554.8 L846.4,568.8 L849.4,554.8 L851.4,582.9 L853.4,596.9 L856.5,554.8 L858.5,568.8 L860.5,596.9 L862.5,611.0 L864.6,582.9 L867.6,554.8 L872.0,540.7 L874.0,526.6 L876.1,498.6 L877.5,470.4 L879.0,456.4 L881.4,470.4 L883.8,484.5 L886.2,484.5 L888.6,470.4 L891.9,470.4 L895.1,456.4 L901.5,456.4 L903.9,442.4 L905.5,442.4 L908.0,470.4 L910.4,484.5 L912.8,498.6 L916.0,484.5 L918.4,470.4 L920.8,484.5 L923.3,512.6 L925.4,540.7 L927.7,568.8 L930.0,596.9 L932.3,611.0 L935.8,625.0 L1039.6,625.0 L1043.1,611.0 L1045.4,596.9 L1047.7,611.0 L1050.0,625.0 L1070.8,625.0 L1074.0,568.8 L1077.8,498.6 L1081.2,498.6 L1084.7,526.6 L1088.2,512.6 L1090.5,498.6 L1098.6,498.6 L1102.0,540.7 L1104.4,582.9 L1106.7,596.9 L1109.0,568.8 L1112.4,526.6 L1115.9,484.5 L1117.7,414.2 L1119.5,456.4 L1122.8,498.6 L1125.0,540.7 L1128.5,484.5 L1130.8,470.4 L1132.4,470.4 L1135.6,484.5 L1138.9,498.6 L1142.3,512.6 L1144.6,526.6 L1147.0,540.7 L1149.3,512.6 L1151.6,484.5 L1153.9,484.5 L1156.2,526.6 L1158.5,498.6 L1162.0,512.6 L1164.3,540.7 L1166.6,512.6 L1170.1,498.6 L1172.4,498.6 L1174.7,512.6 L1177.0,526.6 L1178.1,442.4 L1181.3,442.4 L1182.8,400.2 L1185.5,442.4 L1188.7,470.4 L1190.9,526.6 L1194.3,568.8 L1197.8,582.9 L1204.7,582.9 L1208.2,596.9 L1211.7,611.0 L1215.1,611.0 L1218.6,625.0 L1232.0,625.0 L1236.9,582.9 L1240.4,568.8 L1245.0,540.7 L1248.5,568.8 L1252.0,582.9 L1254.3,596.9 L1257.7,582.9 L1261.2,554.8 L1264.7,540.7 L1269.3,512.6 L1271.6,498.6 L1275.1,512.6 L1277.4,540.7 L1280.8,582.9 L1284.3,596.9 L1286.6,611.0 L1288.9,596.9 L1291.2,554.8 L1294.7,526.6 L1298.2,512.6 L1300.5,526.6 L1302.8,568.8 L1305.1,596.9 L1308.6,568.8 L1312.0,554.8 L1315.5,568.8 L1319.0,540.7 L1322.4,512.6 L1325.9,498.6 L1328.2,484.5 L1329.8,470.4 L1333.0,470.4 L1336.2,386.1 L1338.5,414.2 L1342.4,414.2 L1344.6,470.4 L1348.8,470.4 L1351.0,484.5 L1353.5,498.6 L1355.8,554.8 L1358.1,582.9 L1361.6,596.9 L1363.9,611.0 L1390.5,611.0 L1394.0,625.0 L1466.0,625.0" fill="none" stroke="#00bfbf" stroke-width="5.3" stroke-linejoin="round" stroke-linecap="round" clip-path="url(#cd)"/>
<path d="M809.0,554.8 L812.0,554.8 L814.0,568.8 L818.1,611.0 L820.1,611.0 L823.1,582.9 L827.2,582.9 L829.6,582.9 L833.2,554.8 L836.3,568.8 L839.3,582.9 L845.0,582.9 L848.0,596.9 L852.4,625.0 L857.5,625.0 L860.0,611.0 L862.5,582.9 L865.0,568.8 L867.5,568.8 L869.0,554.8 L871.8,554.8 L876.1,554.8 L878.0,540.7 L880.5,540.7 L883.7,540.7 L886.0,526.6 L889.1,526.6 L892.4,540.7 L894.5,554.8 L896.7,568.8 L898.9,540.7 L902.1,526.6 L905.4,512.6 L908.6,526.6 L911.9,554.8 L915.1,554.8 L917.0,526.6 L919.0,526.6 L923.1,512.6 L925.4,540.7 L927.7,526.6 L930.0,484.5 L933.5,484.5 L935.8,498.6 L938.1,512.6 L940.4,526.6 L942.7,512.6 L945.0,540.7 L948.5,540.7 L952.0,540.7 L954.3,554.8 L956.6,568.8 L961.2,568.8 L963.5,554.8 L967.0,554.8 L969.3,568.8 L972.8,540.7 L975.1,526.6 L977.4,582.9 L980.9,596.9 L984.3,582.9 L989.0,596.9 L993.6,568.8 L998.2,568.8 L1001.7,596.9 L1005.1,568.8 L1009.7,568.8 L1013.2,554.8 L1016.7,540.7 L1023.5,540.7 L1025.8,568.8 L1031.6,568.8 L1035.0,582.9 L1038.5,568.8 L1047.7,568.8 L1051.2,554.8 L1054.7,554.8 L1058.1,568.8 L1061.6,540.7 L1065.1,512.6 L1068.5,540.7 L1071.0,526.6 L1074.3,512.6 L1077.8,526.6 L1081.2,540.7 L1084.7,554.8 L1087.0,582.9 L1095.1,582.9 L1097.4,596.9 L1099.7,568.8 L1102.0,540.7 L1104.4,554.8 L1107.8,568.8 L1111.3,568.8 L1114.8,582.9 L1117.1,568.8 L1121.7,568.8 L1124.0,582.9 L1127.0,568.8 L1130.8,582.9 L1134.0,582.9 L1136.6,568.8 L1145.0,568.8 L1150.0,582.9 L1155.0,568.8 L1160.0,568.8 L1164.3,568.8 L1168.9,568.8 L1173.5,582.9 L1178.2,596.9 L1181.6,611.0 L1185.1,596.9 L1188.6,582.9 L1193.2,554.8 L1196.6,568.8 L1200.1,554.8 L1204.7,540.7 L1208.2,540.7 L1216.3,540.7 L1219.8,512.6 L1223.2,540.7 L1226.7,554.8 L1230.2,540.7 L1232.5,554.8 L1234.6,582.9 L1236.9,596.9 L1262.4,596.9 L1265.8,582.9 L1269.3,554.8 L1272.8,540.7 L1276.2,554.8 L1279.7,568.8 L1283.1,568.8 L1286.6,582.9 L1288.9,554.8 L1292.4,554.8 L1294.7,568.8 L1297.0,554.8 L1300.5,554.8 L1303.9,568.8 L1307.4,554.8 L1309.7,526.6 L1313.2,526.6 L1316.7,512.6 L1320.1,498.6 L1323.6,484.5 L1326.0,498.6 L1328.2,526.6 L1330.5,540.7 L1335.0,540.7 L1338.5,526.6 L1341.9,512.6 L1345.4,526.6 L1348.9,512.6 L1352.3,512.6 L1355.8,568.8 L1359.3,540.7 L1362.8,554.8 L1366.2,526.6 L1369.7,498.6 L1373.2,498.6 L1377.0,526.6 L1381.3,526.6 L1384.7,512.6 L1388.2,526.6 L1391.7,540.7 L1395.1,554.8 L1398.6,554.8 L1402.1,568.8 L1404.4,582.9 L1407.9,625.0 L1410.2,611.0 L1413.6,582.9 L1417.1,568.8 L1420.6,582.9 L1424.1,596.9 L1427.5,582.9 L1432.2,582.9 L1435.6,568.8 L1439.1,554.8 L1441.4,540.7 L1444.9,554.8 L1448.3,568.8 L1451.8,554.8 L1454.1,540.7 L1457.6,582.9 L1461.1,540.7 L1466.0,540.7" fill="none" stroke="#000000" stroke-width="5.3" stroke-linejoin="round" stroke-linecap="round" clip-path="url(#cd)"/>
<path d="M809.0,554.8 L811.0,554.8 L813.0,540.7 L815.0,519.6 L817.0,512.6 L823.0,512.6 L825.2,526.6 L827.2,554.8 L829.2,568.8 L832.0,568.8 L834.3,582.9 L836.3,596.9 L839.3,582.9 L842.0,582.9 L844.4,568.8 L847.0,582.9 L848.5,596.9 L851.4,596.9 L852.4,582.9 L854.5,596.9 L857.5,582.9 L860.0,596.9 L862.5,611.0 L864.5,596.9 L866.0,582.9 L869.6,582.9 L871.8,596.9 L874.0,582.9 L877.2,568.8 L879.4,554.8 L881.5,568.8 L883.7,582.9 L885.9,611.0 L888.0,596.9 L890.2,568.8 L892.4,568.8 L894.5,596.9 L897.8,582.9 L899.9,596.9 L902.1,611.0 L904.3,596.9 L907.5,568.8 L911.9,568.8 L914.0,582.9 L915.5,568.8 L917.3,596.9 L919.6,611.0 L921.9,625.0 L928.9,625.0 L932.3,611.0 L935.8,582.9 L938.1,596.9 L941.6,596.9 L943.9,568.8 L946.2,568.8 L948.5,582.9 L950.8,596.9 L953.1,611.0 L956.6,611.0 L958.9,625.0 L961.2,596.9 L963.5,596.9 L965.8,611.0 L968.2,596.9 L971.6,611.0 L973.9,582.9 L976.2,582.9 L978.5,596.9 L982.0,596.9 L984.3,582.9 L987.8,568.8 L990.1,582.9 L993.6,582.9 L995.9,596.9 L998.2,582.9 L1006.3,582.9 L1009.7,596.9 L1012.1,611.0 L1016.7,611.0 L1020.2,625.0 L1033.9,625.0 L1037.3,611.0 L1040.8,596.9 L1043.1,582.9 L1050.0,582.9 L1053.5,568.8 L1055.8,568.8 L1058.1,582.9 L1060.4,596.9 L1063.9,582.9 L1067.4,582.9 L1069.7,611.0 L1072.0,596.9 L1075.5,568.8 L1078.9,568.8 L1082.4,554.8 L1085.9,554.8 L1088.2,568.8 L1090.5,596.9 L1100.9,596.9 L1104.4,611.0 L1107.8,596.9 L1112.4,582.9 L1119.4,582.9 L1122.8,611.0 L1125.2,625.0 L1134.2,625.0 L1135.4,611.0 L1138.9,611.0 L1141.2,596.9 L1144.6,568.8 L1150.4,568.8 L1152.7,582.9 L1155.0,596.9 L1158.5,582.9 L1162.0,554.8 L1165.4,540.7 L1168.9,554.8 L1171.2,568.8 L1174.7,582.9 L1177.0,596.9 L1186.2,596.9 L1189.7,568.8 L1193.2,554.8 L1195.5,526.6 L1197.8,512.6 L1200.1,526.6 L1202.4,554.8 L1204.7,568.8 L1207.0,554.8 L1209.4,540.7 L1212.8,540.7 L1216.3,512.6 L1218.6,498.6 L1220.9,512.6 L1224.4,512.6 L1226.7,526.6 L1229.0,526.6 L1232.3,568.8 L1234.6,596.9 L1236.9,611.0 L1240.4,611.0 L1242.7,582.9 L1245.0,554.8 L1247.3,540.7 L1249.6,554.8 L1252.0,568.8 L1254.3,540.7 L1256.6,540.7 L1258.9,554.8 L1261.2,554.8 L1263.5,582.9 L1267.0,568.8 L1270.4,568.8 L1272.8,582.9 L1275.1,554.8 L1278.5,568.8 L1280.8,582.9 L1286.6,582.9 L1290.1,568.8 L1293.6,568.8 L1297.0,582.9 L1300.5,554.8 L1304.0,554.8 L1308.6,568.8 L1312.0,582.9 L1315.5,582.9 L1317.8,596.9 L1321.3,596.9 L1324.8,611.0 L1343.0,611.0 L1345.4,625.0 L1355.8,625.0 L1358.1,611.0 L1361.6,611.0 L1365.1,596.9 L1368.5,582.9 L1372.0,568.8 L1375.5,540.7 L1379.0,498.6 L1381.3,484.5 L1383.6,498.6 L1390.0,498.6 L1392.8,512.6 L1396.3,526.6 L1398.6,554.8 L1400.9,582.9 L1404.4,568.8 L1406.7,596.9 L1410.2,611.0 L1413.6,582.9 L1417.1,582.9 L1419.4,596.9 L1422.9,611.0 L1426.4,596.9 L1429.8,611.0 L1433.3,596.9 L1436.8,611.0 L1440.3,596.9 L1443.7,582.9 L1447.2,611.0 L1450.7,611.0 L1455.3,625.0 L1459.9,611.0 L1466.0,625.0" fill="none" stroke="#edb120" stroke-width="5.3" stroke-linejoin="round" stroke-linecap="round" clip-path="url(#cd)"/>
<text x="291.20" y="21.50" font-size="26.9" font-weight="bold" font-style="normal" fill="#151515" text-anchor="start" >Deterministic Model</text>
<text x="1048.80" y="19.80" font-size="27.1" font-weight="bold" font-style="normal" fill="#151515" text-anchor="start" >Hybrid Model</text>
<text x="19.8" y="542.60" font-size="26.9" font-weight="bold" fill="#151515" transform="rotate(-90 19.8 542.60)">Number of molecules per cell</text>
<text x="352.00" y="676.90" font-size="27" font-weight="bold" font-style="normal" fill="#151515" text-anchor="start" >Time (min)</text>
<text x="1068.90" y="676.90" font-size="27" font-weight="bold" font-style="normal" fill="#151515" text-anchor="start" >Time (min)</text>
<path d="M96,91 h6 M742,91 h-6" stroke="#262626" stroke-width="1.2"/>
<path d="M96,202.2 h6 M742,202.2 h-6" stroke="#262626" stroke-width="1.2"/>
<path d="M742,104.6 h-6" stroke="#0000ff" stroke-width="1.2"/>
<path d="M742,174.35 h-6" stroke="#0000ff" stroke-width="1.2"/>
<path d="M742,244.1 h-6" stroke="#0000ff" stroke-width="1.2"/>
<text x="33.07" y="101.30" font-size="26.7" font-weight="normal" font-style="normal" fill="#000" text-anchor="start" >4000</text>
<text x="32.67" y="212.50" font-size="26.7" font-weight="normal" font-style="normal" fill="#000" text-anchor="start" >2000</text>
<text x="77.17" y="323.50" font-size="26.7" font-weight="normal" font-style="normal" fill="#000" text-anchor="start" >0</text>
<text x="747.00" y="115.10" font-size="26.5" font-weight="normal" font-style="normal" fill="#0000ff" text-anchor="start" >60</text>
<text x="747.00" y="184.70" font-size="26.5" font-weight="normal" font-style="normal" fill="#0000ff" text-anchor="start" >40</text>
<text x="747.00" y="254.40" font-size="26.5" font-weight="normal" font-style="normal" fill="#0000ff" text-anchor="start" >20</text>
<path d="M96,415.5 h6 M744,415.5 h-6" stroke="#262626" stroke-width="1.2"/>
<path d="M96,486 h6 M744,486 h-6" stroke="#262626" stroke-width="1.2"/>
<path d="M96,556.5 h6 M744,556.5 h-6" stroke="#262626" stroke-width="1.2"/>
<path d="M258,627 v-6 M258,345 v6" stroke="#262626" stroke-width="1.2"/>
<path d="M420,627 v-6 M420,345 v6" stroke="#262626" stroke-width="1.2"/>
<path d="M582,627 v-6 M582,345 v6" stroke="#262626" stroke-width="1.2"/>
<text x="65.30" y="353.90" font-size="24" font-weight="normal" font-style="normal" fill="#000" text-anchor="start" >20</text>
<text x="64.60" y="424.10" font-size="24" font-weight="normal" font-style="normal" fill="#000" text-anchor="start" >15</text>
<text x="64.60" y="494.60" font-size="24" font-weight="normal" font-style="normal" fill="#000" text-anchor="start" >10</text>
<text x="78.60" y="565.10" font-size="24" font-weight="normal" font-style="normal" fill="#000" text-anchor="start" >5</text>
<text x="78.60" y="635.60" font-size="24" font-weight="normal" font-style="normal" fill="#000" text-anchor="start" >0</text>
<text x="89.50" y="653.00" font-size="24" font-weight="normal" font-style="normal" fill="#000" text-anchor="start" >0</text>
<text x="238.30" y="653.00" font-size="24" font-weight="normal" font-style="normal" fill="#000" text-anchor="start" >100</text>
<text x="400.30" y="653.00" font-size="24" font-weight="normal" font-style="normal" fill="#000" text-anchor="start" >200</text>
<text x="562.30" y="653.00" font-size="24" font-weight="normal" font-style="normal" fill="#000" text-anchor="start" >300</text>
<text x="724.30" y="653.00" font-size="24" font-weight="normal" font-style="normal" fill="#000" text-anchor="start" >400</text>
<path d="M805,86.6 h6 M1463,86.6 h-6" stroke="#0000ff" stroke-width="1.2"/>
<path d="M1463,100.6 h-6" stroke="#0000ff" stroke-width="1.2"/>
<path d="M1463,171.2 h-6" stroke="#0000ff" stroke-width="1.2"/>
<path d="M1463,241.8 h-6" stroke="#0000ff" stroke-width="1.2"/>
<text x="1467.80" y="110.80" font-size="26" font-weight="normal" font-style="normal" fill="#0000ff" text-anchor="start" >60</text>
<text x="1467.80" y="181.40" font-size="26" font-weight="normal" font-style="normal" fill="#0000ff" text-anchor="start" >40</text>
<text x="1467.80" y="252.00" font-size="26" font-weight="normal" font-style="normal" fill="#0000ff" text-anchor="start" >20</text>
<text x="1467.80" y="322.00" font-size="26" font-weight="normal" font-style="normal" fill="#0000ff" text-anchor="start" >0</text>
<path d="M809,414.3 h6 M1464,414.3 h-6" stroke="#262626" stroke-width="1.2"/>
<path d="M809,484.4 h6 M1464,484.4 h-6" stroke="#262626" stroke-width="1.2"/>
<path d="M809,554.5 h6 M1464,554.5 h-6" stroke="#262626" stroke-width="1.2"/>
<path d="M972.75,625 v-6 M972.75,344 v6" stroke="#262626" stroke-width="1.2"/>
<path d="M1136.5,625 v-6 M1136.5,344 v6" stroke="#262626" stroke-width="1.2"/>
<path d="M1300.25,625 v-6 M1300.25,344 v6" stroke="#262626" stroke-width="1.2"/>
<text x="803.30" y="651.80" font-size="24" font-weight="normal" font-style="normal" fill="#000" text-anchor="start" >0</text>
<text x="952.90" y="651.80" font-size="24" font-weight="normal" font-style="normal" fill="#000" text-anchor="start" >100</text>
<text x="1116.80" y="651.80" font-size="24" font-weight="normal" font-style="normal" fill="#000" text-anchor="start" >200</text>
<text x="1280.70" y="651.80" font-size="24" font-weight="normal" font-style="normal" fill="#000" text-anchor="start" >300</text>
<text x="1444.40" y="651.80" font-size="24" font-weight="normal" font-style="normal" fill="#000" text-anchor="start" >400</text>
<text x="106.90" y="68.00" font-size="31.5" font-weight="bold" font-style="normal" fill="#151515" text-anchor="start" >a</text>
<text x="190.60" y="59.90" font-size="26.3" font-weight="bold" font-style="normal" fill="#00ff00" text-anchor="start" >Clb5</text>
<text x="247.80" y="73.40" font-size="20" font-weight="bold" font-style="normal" fill="#00ff00" text-anchor="start" >T</text>
<text x="115.50" y="130.20" font-size="26.3" font-weight="bold" font-style="normal" fill="#ff0000" text-anchor="start" >CKIs</text>
<text x="257.90" y="119.80" font-size="26.3" font-weight="bold" font-style="normal" fill="#edb120" text-anchor="start" >Cdc20</text>
<text x="338.00" y="134.10" font-size="20" font-weight="bold" font-style="normal" fill="#edb120" text-anchor="start" >A</text>
<text x="334.10" y="64.90" font-size="26.3" font-weight="bold" font-style="normal" fill="#000000" text-anchor="start" >Cln2</text>
<text x="477.60" y="60.40" font-size="26.3" font-weight="bold" font-style="normal" fill="#4dbeee" text-anchor="start" >Clb2</text>
<text x="535.10" y="72.60" font-size="20" font-weight="bold" font-style="normal" fill="#4dbeee" text-anchor="start" >T</text>
<text x="615.20" y="65.50" font-size="27" font-weight="bold" font-style="normal" fill="#0000ff" text-anchor="start" >Volume</text>
<line x1="245.2" y1="64.5" x2="245.2" y2="86.5" stroke="#000" stroke-width="3.6"/>
<path d="M235.2,81.5 L245.2,84.5 L255.2,81.5 L245.2,99.0 Z" fill="#000" stroke="#000" stroke-width="1" stroke-linejoin="round"/>
<line x1="413.1" y1="75.7" x2="413.1" y2="98.5" stroke="#000" stroke-width="3.6"/>
<path d="M403.1,93.5 L413.1,96.5 L423.1,93.5 L413.1,111.0 Z" fill="#000" stroke="#000" stroke-width="1" stroke-linejoin="round"/>
<line x1="583.9" y1="80.2" x2="583.9" y2="102.1" stroke="#000" stroke-width="3.6"/>
<path d="M573.9,97.1 L583.9,100.1 L593.9,97.1 L583.9,114.6 Z" fill="#000" stroke="#000" stroke-width="1" stroke-linejoin="round"/>
<text x="106.40" y="383.30" font-size="31.5" font-weight="bold" font-style="normal" fill="#151515" text-anchor="start" >b</text>
<text x="232.10" y="422.90" font-size="26.5" font-weight="bold" font-style="italic" fill="#ff0000" text-anchor="start" >mCdc14</text>
<text x="349.40" y="386.00" font-size="26.5" font-weight="bold" font-style="italic" fill="#00ff00" text-anchor="start" >mNet1</text>
<text x="512.70" y="386.80" font-size="26.5" font-weight="bold" font-style="italic" fill="#edb120" text-anchor="start" >mCdc20</text>
<text x="454.70" y="426.50" font-size="26.5" font-weight="bold" font-style="italic" fill="#4dbeee" text-anchor="start" >mClb2</text>
<text x="626.60" y="424.60" font-size="26.5" font-weight="bold" font-style="italic" fill="#000000" text-anchor="start" >mCln2</text>
<text x="824.30" y="69.80" font-size="31.5" font-weight="bold" font-style="normal" fill="#151515" text-anchor="start" >c</text>
<text x="899.80" y="82.20" font-size="26.3" font-weight="bold" font-style="normal" fill="#00ff00" text-anchor="start" >Clb5</text>
<text x="957.30" y="95.00" font-size="20" font-weight="bold" font-style="normal" fill="#00ff00" text-anchor="start" >T</text>
<text x="994.60" y="62.00" font-size="26.3" font-weight="bold" font-style="normal" fill="#edb120" text-anchor="start" >Cdc20</text>
<text x="1074.40" y="75.20" font-size="20" font-weight="bold" font-style="normal" fill="#edb120" text-anchor="start" >A</text>
<text x="857.90" y="145.10" font-size="26.3" font-weight="bold" font-style="normal" fill="#ff0000" text-anchor="start" >CKIs</text>
<text x="1105.30" y="113.70" font-size="26.3" font-weight="bold" font-style="normal" fill="#000000" text-anchor="start" >Cln2</text>
<text x="1232.60" y="96.70" font-size="26.3" font-weight="bold" font-style="normal" fill="#4dbeee" text-anchor="start" >Clb2</text>
<text x="1289.80" y="109.50" font-size="20" font-weight="bold" font-style="normal" fill="#4dbeee" text-anchor="start" >T</text>
<text x="1317.20" y="61.00" font-size="27" font-weight="bold" font-style="normal" fill="#0000ff" text-anchor="start" >Volume</text>
<text x="819.20" y="382.50" font-size="31.5" font-weight="bold" font-style="normal" fill="#151515" text-anchor="start" >d</text>
<text x="985.00" y="380.00" font-size="26.5" font-weight="bold" font-style="italic" fill="#ff0000" text-anchor="start" >mCdc14</text>
<text x="919.00" y="406.00" font-size="26.5" font-weight="bold" font-style="italic" fill="#00ff00" text-anchor="start" >mNet1</text>
<text x="1249.30" y="378.70" font-size="26.5" font-weight="bold" font-style="italic" fill="#edb120" text-anchor="start" >mCdc20</text>
<text x="1198.70" y="406.60" font-size="26.5" font-weight="bold" font-style="italic" fill="#4dbeee" text-anchor="start" >mClb2</text>
<text x="1355.90" y="404.40" font-size="26.5" font-weight="bold" font-style="italic" fill="#000000" text-anchor="start" >mCln2</text>
<path d="M96,35.5 L742.5,35.5" fill="none" stroke="#262626" stroke-width="1.1"/>
<path d="M96,313.5 L742.5,313.5" fill="none" stroke="#262626" stroke-width="1.1"/>
<path d="M96,35.5 L96,313.5" fill="none" stroke="#262626" stroke-width="1.2"/>
<path d="M742.5,35.5 L742.5,313.5" fill="none" stroke="#0000ff" stroke-width="1.1"/>
<path d="M96,345.5 L744.5,345.5" fill="none" stroke="#262626" stroke-width="1.1"/>
<path d="M96,627.5 L744.5,627.5" fill="none" stroke="#262626" stroke-width="1.1"/>
<path d="M96,345.5 L96,627.5" fill="none" stroke="#262626" stroke-width="1.2"/>
<path d="M744.5,345.5 L744.5,627.5" fill="none" stroke="#262626" stroke-width="1.1"/>
<path d="M805.5,30.5 L1463.5,30.5" fill="none" stroke="#262626" stroke-width="1.1"/>
<path d="M805.5,311.5 L1463.5,311.5" fill="none" stroke="#262626" stroke-width="1.1"/>
<path d="M805.5,30.5 L805.5,311.5" fill="none" stroke="#7070ff" stroke-width="1.1"/>
<path d="M1463.5,30.5 L1463.5,311.5" fill="none" stroke="#0000ff" stroke-width="1.1"/>
<path d="M809.5,344.5 L1464.5,344.5" fill="none" stroke="#262626" stroke-width="1.1"/>
<path d="M809.5,625.5 L1464.5,625.5" fill="none" stroke="#262626" stroke-width="1.1"/>
<path d="M809.5,344.5 L809.5,625.5" fill="none" stroke="#262626" stroke-width="1.1"/>
<path d="M1464.5,344.5 L1464.5,625.5" fill="none" stroke="#262626" stroke-width="1.1"/>
<line x1="971.5" y1="145.4" x2="971.5" y2="167.2" stroke="#000" stroke-width="3.6"/>
<path d="M961.5,162.2 L971.5,165.2 L981.5,162.2 L971.5,179.7 Z" fill="#000" stroke="#000" stroke-width="1" stroke-linejoin="round"/>
<line x1="1229" y1="110" x2="1229" y2="135.1" stroke="#000" stroke-width="3.6"/>
<path d="M1219.0,130.1 L1229.0,133.1 L1239.0,130.1 L1229.0,147.6 Z" fill="#000" stroke="#000" stroke-width="1" stroke-linejoin="round"/>
<line x1="1394.6" y1="133" x2="1394.6" y2="158.0" stroke="#000" stroke-width="3.6"/>
<path d="M1384.6,153.0 L1394.6,156.0 L1404.6,153.0 L1394.6,170.5 Z" fill="#000" stroke="#000" stroke-width="1" stroke-linejoin="round"/>
</svg></body></html>
